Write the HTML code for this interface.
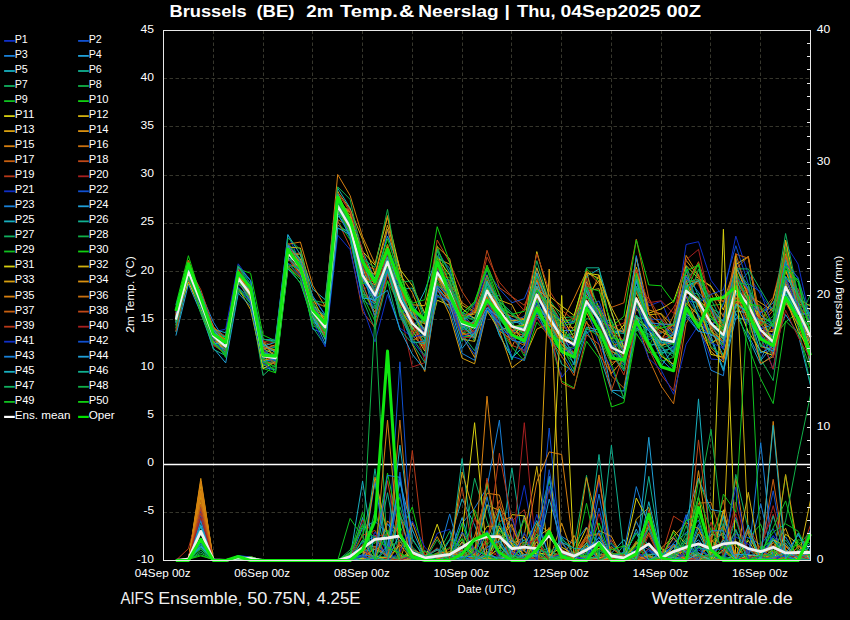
<!DOCTYPE html><html><head><meta charset="utf-8"><style>html,body{margin:0;padding:0;background:#000;}svg{display:block}text{font-family:"Liberation Sans",sans-serif;fill:#fff}</style></head><body>
<svg width="850" height="620" viewBox="0 0 850 620">
<rect width="850" height="620" fill="#000"/>
<path d="M213.5 30.5 V560.5 M263.5 30.5 V560.5 M312.5 30.5 V560.5 M362.5 30.5 V560.5 M412.5 30.5 V560.5 M462.5 30.5 V560.5 M511.5 30.5 V560.5 M561.5 30.5 V560.5 M611.5 30.5 V560.5 M661.5 30.5 V560.5 M710.5 30.5 V560.5 M760.5 30.5 V560.5 M163.5 78.5 H810.5 M163.5 126.5 H810.5 M163.5 175.5 H810.5 M163.5 223.5 H810.5 M163.5 271.5 H810.5 M163.5 319.5 H810.5 M163.5 367.5 H810.5 M163.5 415.5 H810.5 M163.5 512.5 H810.5" stroke="#36362c" stroke-width="1" stroke-dasharray="3.5,2.5" fill="none"/>
<path d="M163.5 464.5 H810.5" stroke="#fff" stroke-width="1.3"/>
<g fill="none" stroke-width="1" stroke-linejoin="round"><path d="M175.9 321.7 L188.4 279.7 L200.8 305.8 L213.3 340.8 L225.7 349.9 L238.2 276.3 L250.6 293.9 L263.0 347.0 L275.5 362.5 L287.9 258.2 L300.4 273.0 L312.8 315.3 L325.2 323.1 L337.7 212.4 L350.1 229.3 L362.6 281.6 L375.0 297.7 L387.5 229.4 L399.9 290.6 L412.3 333.9 L424.8 337.0 L437.2 268.7 L449.7 293.3 L462.1 322.2 L474.6 335.2 L487.0 294.6 L499.4 317.0 L511.9 330.6 L524.3 335.5 L536.8 299.9 L549.2 313.2 L561.7 342.3 L574.1 345.8 L586.5 300.9 L599.0 331.3 L611.4 351.5 L623.9 339.9 L636.3 271.7 L648.8 305.9 L661.2 301.1 L673.6 330.5 L686.1 244.5 L698.5 241.7 L711.0 280.3 L723.4 296.9 L735.8 236.1 L748.3 274.2 L760.7 294.5 L773.2 311.9 L785.6 244.4 L798.1 264.1 L810.5 320.8" stroke="#1030c8"/><path d="M175.9 321.8 L188.4 272.5 L200.8 299.2 L213.3 342.6 L225.7 335.6 L238.2 274.5 L250.6 289.5 L263.0 339.8 L275.5 339.2 L287.9 234.7 L300.4 262.8 L312.8 296.6 L325.2 314.7 L337.7 208.0 L350.1 231.4 L362.6 276.2 L375.0 287.4 L387.5 256.5 L399.9 287.7 L412.3 323.3 L424.8 332.7 L437.2 269.2 L449.7 298.4 L462.1 321.6 L474.6 310.5 L487.0 297.0 L499.4 295.2 L511.9 322.2 L524.3 316.4 L536.8 289.0 L549.2 331.4 L561.7 350.8 L574.1 356.9 L586.5 295.7 L599.0 318.5 L611.4 345.5 L623.9 357.6 L636.3 306.0 L648.8 340.0 L661.2 333.4 L673.6 323.5 L686.1 281.8 L698.5 300.5 L711.0 324.5 L723.4 319.4 L735.8 259.0 L748.3 290.6 L760.7 335.5 L773.2 369.4 L785.6 295.8 L798.1 312.2 L810.5 342.4" stroke="#1050d0"/><path d="M175.9 321.4 L188.4 268.3 L200.8 293.1 L213.3 322.0 L225.7 341.4 L238.2 280.4 L250.6 293.6 L263.0 350.4 L275.5 365.6 L287.9 266.5 L300.4 279.4 L312.8 319.0 L325.2 333.1 L337.7 214.2 L350.1 217.6 L362.6 269.9 L375.0 289.8 L387.5 262.2 L399.9 311.3 L412.3 312.7 L424.8 330.4 L437.2 261.8 L449.7 290.9 L462.1 326.7 L474.6 337.7 L487.0 295.6 L499.4 335.4 L511.9 357.8 L524.3 345.8 L536.8 312.3 L549.2 337.3 L561.7 352.3 L574.1 373.0 L586.5 332.6 L599.0 328.7 L611.4 349.8 L623.9 364.8 L636.3 315.9 L648.8 348.1 L661.2 338.0 L673.6 352.9 L686.1 311.7 L698.5 324.0 L711.0 370.2 L723.4 375.7 L735.8 279.8 L748.3 335.3 L760.7 359.5 L773.2 333.0 L785.6 281.6 L798.1 323.3 L810.5 343.8" stroke="#1880d8"/><path d="M175.9 320.0 L188.4 271.9 L200.8 300.1 L213.3 335.2 L225.7 353.4 L238.2 284.1 L250.6 293.8 L263.0 353.2 L275.5 349.5 L287.9 245.2 L300.4 272.6 L312.8 314.8 L325.2 323.7 L337.7 207.8 L350.1 209.5 L362.6 257.9 L375.0 285.8 L387.5 262.7 L399.9 301.0 L412.3 315.7 L424.8 331.3 L437.2 287.6 L449.7 301.4 L462.1 339.6 L474.6 328.9 L487.0 281.1 L499.4 301.5 L511.9 327.6 L524.3 325.8 L536.8 274.3 L549.2 310.7 L561.7 330.7 L574.1 330.3 L586.5 301.8 L599.0 312.1 L611.4 331.2 L623.9 331.8 L636.3 274.6 L648.8 323.3 L661.2 338.1 L673.6 352.5 L686.1 281.9 L698.5 318.5 L711.0 335.3 L723.4 337.4 L735.8 302.0 L748.3 300.2 L760.7 313.0 L773.2 302.8 L785.6 279.0 L798.1 289.3 L810.5 324.8" stroke="#20a0d8"/><path d="M175.9 319.5 L188.4 276.0 L200.8 299.3 L213.3 337.4 L225.7 351.0 L238.2 288.0 L250.6 303.8 L263.0 360.5 L275.5 360.0 L287.9 258.4 L300.4 272.1 L312.8 314.7 L325.2 320.6 L337.7 215.9 L350.1 228.9 L362.6 295.6 L375.0 303.8 L387.5 264.9 L399.9 297.8 L412.3 326.4 L424.8 346.3 L437.2 276.3 L449.7 298.4 L462.1 328.5 L474.6 322.4 L487.0 303.2 L499.4 334.8 L511.9 358.0 L524.3 345.5 L536.8 317.0 L549.2 322.2 L561.7 352.9 L574.1 355.9 L586.5 331.2 L599.0 353.4 L611.4 391.0 L623.9 398.6 L636.3 315.2 L648.8 349.3 L661.2 366.0 L673.6 348.6 L686.1 304.6 L698.5 325.3 L711.0 329.5 L723.4 355.7 L735.8 313.4 L748.3 337.9 L760.7 364.7 L773.2 354.6 L785.6 301.7 L798.1 318.4 L810.5 331.4" stroke="#18b0c0"/><path d="M175.9 318.3 L188.4 266.0 L200.8 297.8 L213.3 338.3 L225.7 335.9 L238.2 265.8 L250.6 280.6 L263.0 348.4 L275.5 347.7 L287.9 249.4 L300.4 263.5 L312.8 318.4 L325.2 324.0 L337.7 208.1 L350.1 228.3 L362.6 261.9 L375.0 295.7 L387.5 271.4 L399.9 289.5 L412.3 288.0 L424.8 315.9 L437.2 250.1 L449.7 296.0 L462.1 333.9 L474.6 319.8 L487.0 286.7 L499.4 316.2 L511.9 324.6 L524.3 334.8 L536.8 303.7 L549.2 332.0 L561.7 364.3 L574.1 371.4 L586.5 295.5 L599.0 321.4 L611.4 320.4 L623.9 347.0 L636.3 278.7 L648.8 328.1 L661.2 352.4 L673.6 353.3 L686.1 266.5 L698.5 296.4 L711.0 308.4 L723.4 314.7 L735.8 284.6 L748.3 304.5 L760.7 308.3 L773.2 347.5 L785.6 288.6 L798.1 308.7 L810.5 361.8" stroke="#10b090"/><path d="M175.9 315.4 L188.4 272.5 L200.8 307.2 L213.3 336.9 L225.7 357.1 L238.2 291.8 L250.6 301.5 L263.0 375.5 L275.5 364.2 L287.9 256.9 L300.4 275.0 L312.8 319.1 L325.2 335.9 L337.7 213.1 L350.1 224.6 L362.6 275.1 L375.0 306.9 L387.5 272.4 L399.9 296.0 L412.3 317.1 L424.8 322.0 L437.2 277.7 L449.7 300.5 L462.1 341.5 L474.6 322.9 L487.0 301.3 L499.4 317.8 L511.9 329.7 L524.3 321.3 L536.8 272.8 L549.2 310.8 L561.7 338.5 L574.1 333.3 L586.5 287.8 L599.0 325.3 L611.4 337.3 L623.9 355.6 L636.3 315.0 L648.8 329.3 L661.2 346.7 L673.6 357.0 L686.1 296.3 L698.5 305.1 L711.0 327.1 L723.4 338.9 L735.8 287.7 L748.3 271.9 L760.7 334.5 L773.2 337.6 L785.6 288.7 L798.1 318.1 L810.5 353.6" stroke="#10b060"/><path d="M175.9 328.2 L188.4 271.5 L200.8 306.6 L213.3 341.7 L225.7 349.8 L238.2 290.9 L250.6 298.0 L263.0 356.2 L275.5 354.6 L287.9 253.7 L300.4 260.3 L312.8 311.1 L325.2 317.5 L337.7 212.4 L350.1 226.3 L362.6 268.4 L375.0 280.9 L387.5 266.1 L399.9 293.6 L412.3 304.2 L424.8 323.2 L437.2 274.2 L449.7 273.8 L462.1 318.4 L474.6 341.3 L487.0 301.7 L499.4 302.5 L511.9 325.8 L524.3 334.6 L536.8 276.3 L549.2 328.8 L561.7 335.8 L574.1 344.0 L586.5 318.5 L599.0 321.6 L611.4 350.3 L623.9 360.0 L636.3 330.6 L648.8 329.5 L661.2 332.8 L673.6 328.9 L686.1 280.2 L698.5 264.5 L711.0 306.8 L723.4 327.2 L735.8 268.8 L748.3 285.0 L760.7 318.3 L773.2 321.5 L785.6 264.9 L798.1 307.9 L810.5 304.0" stroke="#10b048"/><path d="M175.9 316.8 L188.4 273.5 L200.8 302.3 L213.3 327.0 L225.7 346.7 L238.2 267.0 L250.6 288.0 L263.0 353.6 L275.5 362.1 L287.9 243.0 L300.4 267.5 L312.8 318.3 L325.2 337.2 L337.7 207.7 L350.1 228.5 L362.6 263.5 L375.0 280.4 L387.5 244.6 L399.9 298.6 L412.3 327.8 L424.8 341.4 L437.2 281.1 L449.7 299.7 L462.1 323.5 L474.6 335.0 L487.0 295.5 L499.4 315.5 L511.9 321.6 L524.3 344.6 L536.8 297.7 L549.2 337.9 L561.7 350.5 L574.1 362.9 L586.5 285.2 L599.0 326.2 L611.4 352.5 L623.9 368.7 L636.3 286.9 L648.8 329.0 L661.2 327.9 L673.6 340.4 L686.1 268.8 L698.5 306.6 L711.0 305.5 L723.4 304.1 L735.8 272.1 L748.3 302.1 L760.7 315.0 L773.2 323.8 L785.6 285.4 L798.1 316.3 L810.5 317.8" stroke="#10c020"/><path d="M175.9 304.7 L188.4 255.7 L200.8 296.2 L213.3 332.5 L225.7 338.6 L238.2 268.9 L250.6 273.3 L263.0 335.1 L275.5 340.9 L287.9 243.1 L300.4 258.9 L312.8 300.5 L325.2 307.1 L337.7 192.3 L350.1 223.4 L362.6 263.8 L375.0 291.7 L387.5 244.9 L399.9 284.2 L412.3 320.3 L424.8 338.2 L437.2 283.3 L449.7 298.7 L462.1 334.1 L474.6 327.2 L487.0 294.1 L499.4 327.5 L511.9 347.2 L524.3 360.9 L536.8 322.2 L549.2 335.7 L561.7 381.2 L574.1 388.0 L586.5 341.2 L599.0 358.2 L611.4 407.0 L623.9 402.5 L636.3 333.4 L648.8 352.6 L661.2 353.0 L673.6 368.9 L686.1 295.3 L698.5 315.5 L711.0 331.8 L723.4 345.7 L735.8 290.6 L748.3 320.3 L760.7 340.2 L773.2 338.7 L785.6 322.0 L798.1 312.4 L810.5 328.7" stroke="#10d010"/><path d="M175.9 319.4 L188.4 269.4 L200.8 295.2 L213.3 339.0 L225.7 346.1 L238.2 270.9 L250.6 293.8 L263.0 340.6 L275.5 359.7 L287.9 254.1 L300.4 254.1 L312.8 301.9 L325.2 326.9 L337.7 191.1 L350.1 233.1 L362.6 270.9 L375.0 277.6 L387.5 247.2 L399.9 284.2 L412.3 330.3 L424.8 351.1 L437.2 300.2 L449.7 305.3 L462.1 333.2 L474.6 337.4 L487.0 300.6 L499.4 330.3 L511.9 325.9 L524.3 341.3 L536.8 288.0 L549.2 326.5 L561.7 317.1 L574.1 337.3 L586.5 281.7 L599.0 307.3 L611.4 339.2 L623.9 325.0 L636.3 267.3 L648.8 313.2 L661.2 308.9 L673.6 301.2 L686.1 265.5 L698.5 278.5 L711.0 286.1 L723.4 310.0 L735.8 264.5 L748.3 256.6 L760.7 330.4 L773.2 331.7 L785.6 278.5 L798.1 311.2 L810.5 350.3" stroke="#d8d010"/><path d="M175.9 324.9 L188.4 279.9 L200.8 302.9 L213.3 334.8 L225.7 350.1 L238.2 287.8 L250.6 309.7 L263.0 365.9 L275.5 363.0 L287.9 259.5 L300.4 268.7 L312.8 306.2 L325.2 333.7 L337.7 211.0 L350.1 223.2 L362.6 266.6 L375.0 302.4 L387.5 252.9 L399.9 282.7 L412.3 304.8 L424.8 305.7 L437.2 258.4 L449.7 264.2 L462.1 305.2 L474.6 312.5 L487.0 288.1 L499.4 306.7 L511.9 330.4 L524.3 329.8 L536.8 294.3 L549.2 317.0 L561.7 341.9 L574.1 317.9 L586.5 290.9 L599.0 288.7 L611.4 339.8 L623.9 360.3 L636.3 306.8 L648.8 325.2 L661.2 328.4 L673.6 338.7 L686.1 281.0 L698.5 304.0 L711.0 316.8 L723.4 328.1 L735.8 293.5 L748.3 308.3 L760.7 324.4 L773.2 336.9 L785.6 270.3 L798.1 304.4 L810.5 322.9" stroke="#d0b010"/><path d="M175.9 319.8 L188.4 271.1 L200.8 303.8 L213.3 335.8 L225.7 350.5 L238.2 272.2 L250.6 292.8 L263.0 348.5 L275.5 355.1 L287.9 256.8 L300.4 273.3 L312.8 304.3 L325.2 325.7 L337.7 194.7 L350.1 218.8 L362.6 254.7 L375.0 281.2 L387.5 250.9 L399.9 286.0 L412.3 309.5 L424.8 329.9 L437.2 275.9 L449.7 294.0 L462.1 318.8 L474.6 312.4 L487.0 284.2 L499.4 300.0 L511.9 304.7 L524.3 328.7 L536.8 280.4 L549.2 320.9 L561.7 348.0 L574.1 352.3 L586.5 312.6 L599.0 337.9 L611.4 373.5 L623.9 358.9 L636.3 309.0 L648.8 322.0 L661.2 339.0 L673.6 323.0 L686.1 260.3 L698.5 276.2 L711.0 287.2 L723.4 302.2 L735.8 264.8 L748.3 295.4 L760.7 302.8 L773.2 311.1 L785.6 270.7 L798.1 303.1 L810.5 309.7" stroke="#d8a010"/><path d="M175.9 318.1 L188.4 265.2 L200.8 295.9 L213.3 343.9 L225.7 348.9 L238.2 279.0 L250.6 300.1 L263.0 360.3 L275.5 357.8 L287.9 257.8 L300.4 269.3 L312.8 305.6 L325.2 322.9 L337.7 202.8 L350.1 219.2 L362.6 276.9 L375.0 282.8 L387.5 251.1 L399.9 304.9 L412.3 344.2 L424.8 371.5 L437.2 290.0 L449.7 299.6 L462.1 335.4 L474.6 357.5 L487.0 298.2 L499.4 304.4 L511.9 335.1 L524.3 338.4 L536.8 311.1 L549.2 320.8 L561.7 343.8 L574.1 357.7 L586.5 307.4 L599.0 306.0 L611.4 332.0 L623.9 352.0 L636.3 257.3 L648.8 309.8 L661.2 314.1 L673.6 334.1 L686.1 283.3 L698.5 299.9 L711.0 311.6 L723.4 339.5 L735.8 293.4 L748.3 320.3 L760.7 340.1 L773.2 323.9 L785.6 286.9 L798.1 304.5 L810.5 366.5" stroke="#d89010"/><path d="M175.9 318.4 L188.4 274.0 L200.8 298.0 L213.3 338.5 L225.7 350.5 L238.2 282.2 L250.6 289.8 L263.0 353.9 L275.5 359.1 L287.9 253.8 L300.4 260.8 L312.8 317.7 L325.2 332.3 L337.7 206.7 L350.1 233.5 L362.6 290.0 L375.0 312.2 L387.5 268.2 L399.9 314.4 L412.3 335.6 L424.8 347.5 L437.2 284.6 L449.7 298.9 L462.1 327.1 L474.6 321.8 L487.0 280.9 L499.4 308.3 L511.9 346.7 L524.3 322.1 L536.8 280.1 L549.2 301.2 L561.7 322.6 L574.1 340.6 L586.5 304.9 L599.0 274.9 L611.4 365.7 L623.9 352.4 L636.3 297.4 L648.8 323.6 L661.2 347.2 L673.6 333.1 L686.1 255.4 L698.5 275.1 L711.0 323.3 L723.4 320.6 L735.8 306.0 L748.3 288.8 L760.7 337.2 L773.2 342.8 L785.6 299.2 L798.1 325.4 L810.5 360.4" stroke="#d88010"/><path d="M175.9 321.7 L188.4 280.8 L200.8 307.3 L213.3 343.7 L225.7 354.1 L238.2 278.8 L250.6 298.7 L263.0 363.1 L275.5 363.4 L287.9 252.6 L300.4 267.6 L312.8 309.2 L325.2 326.5 L337.7 219.7 L350.1 226.5 L362.6 281.4 L375.0 278.3 L387.5 268.5 L399.9 303.3 L412.3 340.2 L424.8 335.6 L437.2 277.2 L449.7 285.1 L462.1 319.5 L474.6 332.5 L487.0 296.7 L499.4 331.0 L511.9 339.5 L524.3 345.3 L536.8 286.1 L549.2 328.0 L561.7 352.6 L574.1 352.8 L586.5 322.5 L599.0 335.7 L611.4 375.9 L623.9 388.2 L636.3 317.9 L648.8 358.8 L661.2 386.0 L673.6 403.8 L686.1 323.5 L698.5 302.9 L711.0 348.0 L723.4 359.7 L735.8 289.4 L748.3 306.8 L760.7 319.1 L773.2 331.5 L785.6 240.4 L798.1 305.6 L810.5 334.7" stroke="#c87010"/><path d="M175.9 313.6 L188.4 266.9 L200.8 301.8 L213.3 326.4 L225.7 352.5 L238.2 279.2 L250.6 298.7 L263.0 354.9 L275.5 354.2 L287.9 257.6 L300.4 276.5 L312.8 316.4 L325.2 320.7 L337.7 201.9 L350.1 211.8 L362.6 269.4 L375.0 283.2 L387.5 251.8 L399.9 288.2 L412.3 323.3 L424.8 333.0 L437.2 270.8 L449.7 293.5 L462.1 317.0 L474.6 334.2 L487.0 279.3 L499.4 311.9 L511.9 336.1 L524.3 323.8 L536.8 296.3 L549.2 310.7 L561.7 337.5 L574.1 336.9 L586.5 270.3 L599.0 283.8 L611.4 307.4 L623.9 302.8 L636.3 239.1 L648.8 298.2 L661.2 328.6 L673.6 335.3 L686.1 295.2 L698.5 278.2 L711.0 293.6 L723.4 317.2 L735.8 253.4 L748.3 296.6 L760.7 305.8 L773.2 356.1 L785.6 279.6 L798.1 300.5 L810.5 339.0" stroke="#c86010"/><path d="M175.9 317.6 L188.4 266.3 L200.8 289.7 L213.3 326.7 L225.7 341.3 L238.2 280.2 L250.6 284.7 L263.0 341.6 L275.5 347.0 L287.9 256.2 L300.4 252.5 L312.8 302.5 L325.2 306.3 L337.7 192.7 L350.1 211.9 L362.6 265.0 L375.0 269.2 L387.5 264.4 L399.9 283.5 L412.3 334.7 L424.8 319.8 L437.2 240.0 L449.7 262.7 L462.1 291.6 L474.6 310.2 L487.0 250.3 L499.4 287.6 L511.9 296.6 L524.3 305.3 L536.8 277.7 L549.2 311.1 L561.7 327.9 L574.1 327.5 L586.5 304.1 L599.0 320.3 L611.4 346.5 L623.9 340.6 L636.3 287.4 L648.8 322.0 L661.2 324.5 L673.6 307.4 L686.1 285.5 L698.5 261.7 L711.0 299.4 L723.4 301.0 L735.8 302.3 L748.3 290.4 L760.7 312.2 L773.2 297.3 L785.6 247.2 L798.1 321.3 L810.5 323.5" stroke="#c04818"/><path d="M175.9 331.8 L188.4 278.2 L200.8 312.3 L213.3 344.6 L225.7 354.4 L238.2 274.6 L250.6 290.5 L263.0 357.6 L275.5 357.2 L287.9 253.0 L300.4 265.4 L312.8 307.1 L325.2 324.3 L337.7 206.3 L350.1 236.5 L362.6 293.7 L375.0 302.2 L387.5 265.9 L399.9 306.5 L412.3 331.1 L424.8 328.6 L437.2 267.7 L449.7 280.6 L462.1 319.7 L474.6 334.7 L487.0 265.0 L499.4 295.2 L511.9 323.7 L524.3 308.8 L536.8 272.8 L549.2 301.1 L561.7 341.4 L574.1 341.3 L586.5 283.5 L599.0 323.3 L611.4 351.7 L623.9 374.9 L636.3 325.1 L648.8 348.6 L661.2 375.0 L673.6 390.6 L686.1 313.4 L698.5 320.4 L711.0 333.5 L723.4 347.5 L735.8 300.5 L748.3 322.2 L760.7 335.4 L773.2 335.8 L785.6 290.3 L798.1 292.3 L810.5 317.4" stroke="#b83818"/><path d="M175.9 320.9 L188.4 281.1 L200.8 310.7 L213.3 345.9 L225.7 350.5 L238.2 278.2 L250.6 293.9 L263.0 353.5 L275.5 365.1 L287.9 257.5 L300.4 274.7 L312.8 323.4 L325.2 331.4 L337.7 212.4 L350.1 223.8 L362.6 288.7 L375.0 286.1 L387.5 259.2 L399.9 309.3 L412.3 367.0 L424.8 362.7 L437.2 295.1 L449.7 307.8 L462.1 331.0 L474.6 331.0 L487.0 304.8 L499.4 319.8 L511.9 329.5 L524.3 331.7 L536.8 296.6 L549.2 306.3 L561.7 338.9 L574.1 352.1 L586.5 292.2 L599.0 313.1 L611.4 328.2 L623.9 322.9 L636.3 290.1 L648.8 312.6 L661.2 337.8 L673.6 335.3 L686.1 271.4 L698.5 285.0 L711.0 310.4 L723.4 332.3 L735.8 282.9 L748.3 306.5 L760.7 338.0 L773.2 369.2 L785.6 299.3 L798.1 288.4 L810.5 320.7" stroke="#a82020"/><path d="M175.9 318.7 L188.4 262.4 L200.8 300.0 L213.3 332.0 L225.7 329.1 L238.2 263.8 L250.6 280.9 L263.0 347.6 L275.5 346.6 L287.9 245.1 L300.4 263.3 L312.8 303.6 L325.2 317.0 L337.7 198.2 L350.1 233.1 L362.6 286.5 L375.0 309.0 L387.5 272.4 L399.9 306.8 L412.3 340.8 L424.8 357.2 L437.2 271.5 L449.7 295.1 L462.1 330.2 L474.6 304.7 L487.0 275.1 L499.4 307.7 L511.9 337.0 L524.3 353.3 L536.8 317.2 L549.2 335.7 L561.7 377.3 L574.1 362.4 L586.5 305.7 L599.0 344.6 L611.4 368.2 L623.9 397.8 L636.3 324.9 L648.8 358.5 L661.2 370.2 L673.6 394.3 L686.1 344.2 L698.5 325.1 L711.0 359.1 L723.4 359.8 L735.8 306.6 L748.3 324.3 L760.7 327.0 L773.2 335.9 L785.6 261.6 L798.1 305.2 L810.5 316.8" stroke="#1030c8"/><path d="M175.9 308.5 L188.4 264.5 L200.8 296.1 L213.3 337.4 L225.7 346.5 L238.2 267.0 L250.6 284.4 L263.0 353.9 L275.5 361.3 L287.9 253.1 L300.4 262.3 L312.8 313.7 L325.2 320.6 L337.7 206.2 L350.1 239.2 L362.6 299.8 L375.0 308.6 L387.5 272.6 L399.9 308.6 L412.3 310.6 L424.8 321.7 L437.2 249.0 L449.7 272.6 L462.1 312.9 L474.6 303.4 L487.0 270.5 L499.4 288.9 L511.9 302.7 L524.3 298.7 L536.8 268.6 L549.2 303.6 L561.7 322.9 L574.1 322.1 L586.5 299.3 L599.0 323.9 L611.4 341.6 L623.9 343.7 L636.3 281.8 L648.8 318.8 L661.2 319.9 L673.6 340.7 L686.1 300.9 L698.5 302.1 L711.0 328.7 L723.4 303.9 L735.8 273.6 L748.3 302.8 L760.7 313.0 L773.2 306.7 L785.6 259.7 L798.1 278.6 L810.5 335.7" stroke="#1050d0"/><path d="M175.9 319.9 L188.4 271.4 L200.8 305.1 L213.3 343.5 L225.7 349.9 L238.2 273.7 L250.6 299.8 L263.0 358.8 L275.5 354.3 L287.9 246.4 L300.4 269.3 L312.8 329.3 L325.2 333.4 L337.7 207.9 L350.1 233.7 L362.6 278.9 L375.0 296.6 L387.5 267.8 L399.9 307.7 L412.3 324.1 L424.8 320.4 L437.2 268.4 L449.7 283.5 L462.1 313.3 L474.6 327.9 L487.0 274.6 L499.4 307.9 L511.9 318.6 L524.3 324.3 L536.8 305.1 L549.2 318.3 L561.7 348.4 L574.1 354.7 L586.5 305.2 L599.0 309.4 L611.4 333.2 L623.9 329.7 L636.3 274.8 L648.8 330.3 L661.2 359.4 L673.6 371.3 L686.1 316.5 L698.5 331.7 L711.0 321.9 L723.4 349.6 L735.8 293.5 L748.3 297.2 L760.7 328.8 L773.2 324.6 L785.6 258.1 L798.1 299.5 L810.5 313.5" stroke="#1880d8"/><path d="M175.9 335.6 L188.4 284.1 L200.8 312.7 L213.3 348.0 L225.7 362.9 L238.2 293.3 L250.6 306.1 L263.0 367.2 L275.5 369.9 L287.9 268.7 L300.4 282.7 L312.8 321.6 L325.2 330.0 L337.7 225.1 L350.1 233.3 L362.6 293.7 L375.0 301.3 L387.5 252.5 L399.9 289.1 L412.3 329.0 L424.8 317.9 L437.2 272.7 L449.7 294.7 L462.1 312.5 L474.6 318.5 L487.0 283.5 L499.4 306.5 L511.9 320.3 L524.3 325.4 L536.8 282.2 L549.2 313.7 L561.7 339.7 L574.1 358.4 L586.5 327.1 L599.0 330.1 L611.4 390.3 L623.9 391.0 L636.3 328.2 L648.8 334.2 L661.2 345.8 L673.6 367.4 L686.1 313.8 L698.5 322.6 L711.0 339.3 L723.4 371.1 L735.8 317.9 L748.3 319.7 L760.7 360.6 L773.2 345.0 L785.6 314.6 L798.1 333.8 L810.5 385.5" stroke="#20a0d8"/><path d="M175.9 310.4 L188.4 264.4 L200.8 293.0 L213.3 329.1 L225.7 332.8 L238.2 277.9 L250.6 293.9 L263.0 339.1 L275.5 341.2 L287.9 234.7 L300.4 254.7 L312.8 289.2 L325.2 299.7 L337.7 188.1 L350.1 208.0 L362.6 250.8 L375.0 279.5 L387.5 236.2 L399.9 268.3 L412.3 315.9 L424.8 290.9 L437.2 255.8 L449.7 268.2 L462.1 313.9 L474.6 338.4 L487.0 309.9 L499.4 316.4 L511.9 338.5 L524.3 336.2 L536.8 272.9 L549.2 309.1 L561.7 339.7 L574.1 365.0 L586.5 276.3 L599.0 269.1 L611.4 311.6 L623.9 350.6 L636.3 280.6 L648.8 323.9 L661.2 351.3 L673.6 347.5 L686.1 286.1 L698.5 301.2 L711.0 336.3 L723.4 369.3 L735.8 311.0 L748.3 312.8 L760.7 319.8 L773.2 356.0 L785.6 279.7 L798.1 308.1 L810.5 364.3" stroke="#18b0c0"/><path d="M175.9 331.8 L188.4 278.2 L200.8 308.1 L213.3 349.3 L225.7 355.6 L238.2 280.7 L250.6 300.1 L263.0 362.2 L275.5 361.9 L287.9 257.5 L300.4 263.6 L312.8 308.0 L325.2 329.7 L337.7 196.8 L350.1 225.4 L362.6 278.0 L375.0 273.2 L387.5 260.2 L399.9 292.9 L412.3 320.1 L424.8 343.1 L437.2 296.5 L449.7 299.9 L462.1 321.8 L474.6 310.0 L487.0 283.8 L499.4 317.1 L511.9 332.4 L524.3 322.4 L536.8 298.0 L549.2 315.3 L561.7 319.6 L574.1 321.5 L586.5 267.8 L599.0 267.8 L611.4 331.5 L623.9 333.6 L636.3 274.0 L648.8 343.9 L661.2 345.7 L673.6 332.9 L686.1 270.3 L698.5 310.6 L711.0 318.7 L723.4 330.6 L735.8 293.0 L748.3 307.2 L760.7 337.3 L773.2 342.8 L785.6 292.9 L798.1 321.5 L810.5 349.8" stroke="#10b090"/><path d="M175.9 319.5 L188.4 273.0 L200.8 308.1 L213.3 341.4 L225.7 352.3 L238.2 278.8 L250.6 303.4 L263.0 364.7 L275.5 362.9 L287.9 263.5 L300.4 269.2 L312.8 327.4 L325.2 345.6 L337.7 228.5 L350.1 230.9 L362.6 299.1 L375.0 329.1 L387.5 280.7 L399.9 330.1 L412.3 343.2 L424.8 362.6 L437.2 294.7 L449.7 302.8 L462.1 334.2 L474.6 350.8 L487.0 312.3 L499.4 324.4 L511.9 335.6 L524.3 325.8 L536.8 301.7 L549.2 323.1 L561.7 348.9 L574.1 346.8 L586.5 308.6 L599.0 317.4 L611.4 359.2 L623.9 339.5 L636.3 286.2 L648.8 313.6 L661.2 346.8 L673.6 337.4 L686.1 292.1 L698.5 294.0 L711.0 343.7 L723.4 332.5 L735.8 269.8 L748.3 308.6 L760.7 334.7 L773.2 357.7 L785.6 293.0 L798.1 326.4 L810.5 384.0" stroke="#10b060"/><path d="M175.9 316.9 L188.4 269.2 L200.8 296.2 L213.3 327.8 L225.7 342.6 L238.2 266.7 L250.6 288.7 L263.0 353.7 L275.5 346.1 L287.9 244.7 L300.4 261.6 L312.8 302.9 L325.2 318.2 L337.7 213.5 L350.1 222.0 L362.6 288.8 L375.0 314.9 L387.5 260.9 L399.9 287.9 L412.3 311.6 L424.8 339.4 L437.2 295.7 L449.7 308.2 L462.1 316.8 L474.6 319.2 L487.0 282.7 L499.4 305.7 L511.9 314.4 L524.3 322.4 L536.8 276.4 L549.2 298.9 L561.7 317.8 L574.1 316.7 L586.5 272.5 L599.0 311.5 L611.4 326.2 L623.9 350.8 L636.3 297.9 L648.8 330.3 L661.2 342.3 L673.6 343.3 L686.1 287.7 L698.5 301.9 L711.0 324.8 L723.4 345.0 L735.8 302.9 L748.3 311.4 L760.7 359.1 L773.2 380.6 L785.6 289.3 L798.1 321.4 L810.5 294.5" stroke="#10b048"/><path d="M175.9 328.5 L188.4 268.6 L200.8 310.6 L213.3 337.1 L225.7 357.5 L238.2 288.1 L250.6 303.7 L263.0 364.6 L275.5 369.4 L287.9 264.4 L300.4 269.5 L312.8 302.7 L325.2 337.6 L337.7 210.2 L350.1 231.3 L362.6 293.8 L375.0 308.8 L387.5 266.4 L399.9 311.5 L412.3 307.8 L424.8 323.5 L437.2 279.7 L449.7 276.9 L462.1 336.7 L474.6 336.2 L487.0 291.4 L499.4 319.4 L511.9 334.0 L524.3 356.1 L536.8 306.6 L549.2 330.6 L561.7 346.0 L574.1 369.8 L586.5 327.7 L599.0 336.6 L611.4 364.2 L623.9 398.6 L636.3 328.3 L648.8 345.5 L661.2 361.2 L673.6 357.4 L686.1 304.9 L698.5 322.3 L711.0 346.8 L723.4 355.7 L735.8 304.2 L748.3 346.3 L760.7 378.8 L773.2 403.6 L785.6 321.0 L798.1 333.2 L810.5 368.9" stroke="#10c020"/><path d="M175.9 316.8 L188.4 267.2 L200.8 304.8 L213.3 330.3 L225.7 338.8 L238.2 280.9 L250.6 298.7 L263.0 368.4 L275.5 372.8 L287.9 263.5 L300.4 277.2 L312.8 325.8 L325.2 330.9 L337.7 221.4 L350.1 239.6 L362.6 295.5 L375.0 321.2 L387.5 280.8 L399.9 306.4 L412.3 330.2 L424.8 316.8 L437.2 245.7 L449.7 284.9 L462.1 314.1 L474.6 301.8 L487.0 269.1 L499.4 307.6 L511.9 314.2 L524.3 311.3 L536.8 290.3 L549.2 303.7 L561.7 323.9 L574.1 317.4 L586.5 268.8 L599.0 281.1 L611.4 326.7 L623.9 316.3 L636.3 239.9 L648.8 284.9 L661.2 285.8 L673.6 302.5 L686.1 271.1 L698.5 265.0 L711.0 324.6 L723.4 328.4 L735.8 271.7 L748.3 299.1 L760.7 331.1 L773.2 336.7 L785.6 269.8 L798.1 279.8 L810.5 335.9" stroke="#10d010"/><path d="M175.9 317.8 L188.4 281.9 L200.8 308.6 L213.3 341.0 L225.7 346.3 L238.2 270.5 L250.6 298.6 L263.0 368.7 L275.5 361.7 L287.9 246.7 L300.4 258.9 L312.8 310.5 L325.2 319.2 L337.7 194.5 L350.1 220.0 L362.6 251.4 L375.0 265.1 L387.5 217.0 L399.9 269.2 L412.3 285.5 L424.8 313.1 L437.2 258.2 L449.7 274.8 L462.1 308.6 L474.6 318.5 L487.0 292.3 L499.4 306.5 L511.9 336.4 L524.3 323.5 L536.8 251.6 L549.2 295.9 L561.7 306.0 L574.1 315.5 L586.5 273.2 L599.0 275.0 L611.4 311.8 L623.9 348.1 L636.3 317.7 L648.8 329.7 L661.2 356.1 L673.6 364.4 L686.1 302.7 L698.5 315.3 L711.0 354.4 L723.4 357.2 L735.8 301.1 L748.3 331.7 L760.7 350.9 L773.2 355.5 L785.6 298.0 L798.1 331.4 L810.5 350.6" stroke="#d8d010"/><path d="M175.9 311.1 L188.4 268.2 L200.8 300.3 L213.3 334.2 L225.7 346.9 L238.2 280.8 L250.6 292.6 L263.0 362.3 L275.5 349.9 L287.9 247.1 L300.4 248.0 L312.8 298.1 L325.2 322.5 L337.7 191.9 L350.1 209.0 L362.6 239.5 L375.0 273.9 L387.5 225.0 L399.9 268.0 L412.3 317.5 L424.8 324.0 L437.2 272.7 L449.7 298.8 L462.1 339.2 L474.6 341.4 L487.0 293.1 L499.4 314.2 L511.9 320.8 L524.3 319.4 L536.8 267.7 L549.2 302.9 L561.7 313.0 L574.1 331.0 L586.5 272.8 L599.0 278.3 L611.4 307.4 L623.9 331.3 L636.3 257.9 L648.8 314.7 L661.2 313.7 L673.6 326.4 L686.1 287.4 L698.5 303.2 L711.0 343.0 L723.4 336.9 L735.8 280.2 L748.3 300.8 L760.7 317.7 L773.2 342.8 L785.6 240.1 L798.1 298.9 L810.5 306.3" stroke="#d0b010"/><path d="M175.9 314.6 L188.4 271.0 L200.8 303.1 L213.3 332.6 L225.7 339.4 L238.2 275.9 L250.6 290.5 L263.0 346.3 L275.5 350.0 L287.9 251.9 L300.4 263.0 L312.8 307.3 L325.2 317.6 L337.7 197.7 L350.1 215.5 L362.6 278.6 L375.0 284.8 L387.5 251.5 L399.9 309.1 L412.3 326.8 L424.8 344.6 L437.2 288.3 L449.7 314.8 L462.1 358.2 L474.6 363.8 L487.0 310.6 L499.4 330.7 L511.9 367.8 L524.3 358.4 L536.8 329.1 L549.2 323.3 L561.7 331.5 L574.1 346.5 L586.5 295.9 L599.0 280.7 L611.4 327.7 L623.9 351.4 L636.3 292.4 L648.8 322.5 L661.2 331.6 L673.6 338.7 L686.1 295.2 L698.5 280.1 L711.0 330.8 L723.4 341.5 L735.8 266.2 L748.3 296.5 L760.7 322.1 L773.2 298.8 L785.6 253.7 L798.1 312.1 L810.5 344.5" stroke="#d8a010"/><path d="M175.9 321.6 L188.4 269.5 L200.8 299.0 L213.3 326.6 L225.7 342.8 L238.2 271.7 L250.6 295.9 L263.0 349.6 L275.5 344.8 L287.9 244.9 L300.4 263.6 L312.8 306.2 L325.2 330.3 L337.7 205.1 L350.1 212.2 L362.6 264.0 L375.0 275.2 L387.5 229.2 L399.9 274.3 L412.3 292.7 L424.8 324.1 L437.2 246.6 L449.7 258.7 L462.1 315.4 L474.6 314.2 L487.0 291.6 L499.4 312.5 L511.9 326.6 L524.3 325.4 L536.8 287.9 L549.2 300.0 L561.7 338.9 L574.1 337.6 L586.5 295.8 L599.0 310.6 L611.4 351.5 L623.9 356.8 L636.3 269.8 L648.8 325.5 L661.2 345.3 L673.6 342.2 L686.1 296.6 L698.5 327.2 L711.0 351.4 L723.4 362.2 L735.8 305.2 L748.3 299.6 L760.7 346.8 L773.2 348.9 L785.6 283.7 L798.1 313.6 L810.5 315.7" stroke="#d89010"/><path d="M175.9 315.8 L188.4 268.9 L200.8 301.2 L213.3 342.8 L225.7 340.5 L238.2 270.2 L250.6 289.6 L263.0 343.2 L275.5 351.8 L287.9 244.3 L300.4 242.0 L312.8 285.6 L325.2 306.5 L337.7 174.5 L350.1 195.5 L362.6 236.7 L375.0 263.6 L387.5 215.6 L399.9 286.0 L412.3 310.0 L424.8 337.6 L437.2 276.1 L449.7 295.9 L462.1 332.9 L474.6 337.7 L487.0 290.4 L499.4 311.2 L511.9 316.3 L524.3 318.9 L536.8 286.1 L549.2 310.4 L561.7 322.3 L574.1 298.2 L586.5 271.3 L599.0 322.6 L611.4 325.9 L623.9 332.6 L636.3 271.1 L648.8 313.7 L661.2 323.9 L673.6 325.1 L686.1 275.1 L698.5 306.0 L711.0 326.5 L723.4 359.6 L735.8 297.2 L748.3 317.2 L760.7 363.6 L773.2 356.6 L785.6 302.7 L798.1 324.2 L810.5 333.4" stroke="#d88010"/><path d="M175.9 312.9 L188.4 260.0 L200.8 299.3 L213.3 327.3 L225.7 336.8 L238.2 277.4 L250.6 289.0 L263.0 347.5 L275.5 351.4 L287.9 252.2 L300.4 267.1 L312.8 314.2 L325.2 338.3 L337.7 207.1 L350.1 228.9 L362.6 283.1 L375.0 316.4 L387.5 273.7 L399.9 280.7 L412.3 310.9 L424.8 319.8 L437.2 256.6 L449.7 283.3 L462.1 302.6 L474.6 311.7 L487.0 275.6 L499.4 308.9 L511.9 331.6 L524.3 335.6 L536.8 305.6 L549.2 320.4 L561.7 344.4 L574.1 356.8 L586.5 321.0 L599.0 353.7 L611.4 373.3 L623.9 359.6 L636.3 302.9 L648.8 318.8 L661.2 341.2 L673.6 315.6 L686.1 280.0 L698.5 283.2 L711.0 305.3 L723.4 325.8 L735.8 268.9 L748.3 256.3 L760.7 321.0 L773.2 307.8 L785.6 248.6 L798.1 310.0 L810.5 340.4" stroke="#c87010"/><path d="M175.9 313.1 L188.4 260.3 L200.8 297.6 L213.3 341.9 L225.7 342.1 L238.2 281.7 L250.6 301.1 L263.0 360.8 L275.5 364.2 L287.9 266.6 L300.4 264.3 L312.8 309.5 L325.2 339.7 L337.7 202.7 L350.1 221.2 L362.6 272.2 L375.0 282.1 L387.5 244.3 L399.9 284.4 L412.3 320.7 L424.8 347.5 L437.2 276.7 L449.7 305.0 L462.1 334.5 L474.6 332.7 L487.0 297.1 L499.4 309.1 L511.9 331.4 L524.3 343.5 L536.8 298.1 L549.2 337.1 L561.7 356.5 L574.1 375.7 L586.5 301.4 L599.0 330.2 L611.4 362.6 L623.9 358.5 L636.3 307.7 L648.8 318.0 L661.2 339.6 L673.6 338.3 L686.1 295.0 L698.5 273.9 L711.0 326.6 L723.4 326.1 L735.8 254.2 L748.3 258.2 L760.7 324.8 L773.2 310.4 L785.6 256.3 L798.1 294.3 L810.5 325.9" stroke="#c86010"/><path d="M175.9 315.0 L188.4 263.8 L200.8 296.2 L213.3 328.9 L225.7 340.8 L238.2 277.9 L250.6 296.7 L263.0 354.2 L275.5 363.3 L287.9 266.2 L300.4 277.4 L312.8 314.2 L325.2 335.2 L337.7 221.0 L350.1 246.8 L362.6 311.7 L375.0 327.7 L387.5 274.6 L399.9 311.7 L412.3 318.7 L424.8 350.2 L437.2 263.3 L449.7 288.1 L462.1 319.6 L474.6 324.1 L487.0 294.2 L499.4 324.6 L511.9 345.3 L524.3 350.4 L536.8 314.9 L549.2 325.2 L561.7 383.1 L574.1 389.0 L586.5 334.7 L599.0 344.4 L611.4 390.6 L623.9 353.9 L636.3 304.1 L648.8 317.0 L661.2 332.8 L673.6 324.9 L686.1 291.1 L698.5 297.9 L711.0 326.0 L723.4 343.7 L735.8 303.3 L748.3 286.1 L760.7 336.6 L773.2 329.2 L785.6 249.0 L798.1 296.3 L810.5 325.0" stroke="#c04818"/><path d="M175.9 331.0 L188.4 270.2 L200.8 294.5 L213.3 332.4 L225.7 350.3 L238.2 280.6 L250.6 301.0 L263.0 350.5 L275.5 357.4 L287.9 245.9 L300.4 272.2 L312.8 304.8 L325.2 329.3 L337.7 196.5 L350.1 226.4 L362.6 266.4 L375.0 292.2 L387.5 253.3 L399.9 298.9 L412.3 320.3 L424.8 349.5 L437.2 267.9 L449.7 286.2 L462.1 317.0 L474.6 311.0 L487.0 257.1 L499.4 282.2 L511.9 296.7 L524.3 310.7 L536.8 253.7 L549.2 290.3 L561.7 310.3 L574.1 320.0 L586.5 278.2 L599.0 321.3 L611.4 331.7 L623.9 340.4 L636.3 291.1 L648.8 298.2 L661.2 319.5 L673.6 330.2 L686.1 296.0 L698.5 301.8 L711.0 310.9 L723.4 333.9 L735.8 273.3 L748.3 307.8 L760.7 331.9 L773.2 351.2 L785.6 279.2 L798.1 305.8 L810.5 320.5" stroke="#b83818"/><path d="M175.9 316.5 L188.4 270.7 L200.8 295.9 L213.3 330.4 L225.7 336.1 L238.2 267.9 L250.6 290.6 L263.0 341.1 L275.5 342.9 L287.9 243.0 L300.4 269.8 L312.8 309.9 L325.2 324.4 L337.7 192.9 L350.1 210.4 L362.6 250.2 L375.0 295.8 L387.5 260.9 L399.9 303.3 L412.3 321.0 L424.8 361.0 L437.2 289.0 L449.7 304.2 L462.1 337.6 L474.6 337.2 L487.0 302.0 L499.4 325.3 L511.9 338.2 L524.3 353.4 L536.8 317.5 L549.2 338.3 L561.7 338.8 L574.1 343.9 L586.5 299.1 L599.0 320.4 L611.4 350.3 L623.9 348.5 L636.3 269.1 L648.8 302.7 L661.2 300.8 L673.6 313.4 L686.1 259.9 L698.5 249.4 L711.0 307.5 L723.4 334.5 L735.8 302.1 L748.3 307.5 L760.7 320.0 L773.2 357.7 L785.6 310.3 L798.1 337.0 L810.5 358.7" stroke="#a82020"/><path d="M175.9 313.1 L188.4 273.3 L200.8 306.3 L213.3 339.8 L225.7 354.3 L238.2 286.8 L250.6 302.1 L263.0 363.1 L275.5 371.8 L287.9 262.9 L300.4 275.8 L312.8 321.2 L325.2 346.9 L337.7 235.1 L350.1 249.6 L362.6 307.2 L375.0 341.9 L387.5 294.5 L399.9 328.0 L412.3 337.1 L424.8 334.4 L437.2 295.9 L449.7 300.8 L462.1 336.8 L474.6 332.0 L487.0 299.4 L499.4 330.1 L511.9 335.4 L524.3 350.8 L536.8 302.7 L549.2 310.3 L561.7 320.0 L574.1 342.6 L586.5 311.4 L599.0 305.4 L611.4 344.2 L623.9 359.8 L636.3 305.9 L648.8 330.2 L661.2 338.6 L673.6 348.7 L686.1 295.4 L698.5 314.0 L711.0 342.7 L723.4 348.3 L735.8 276.5 L748.3 288.9 L760.7 334.2 L773.2 351.7 L785.6 276.1 L798.1 309.4 L810.5 319.3" stroke="#1030c8"/><path d="M175.9 305.2 L188.4 267.3 L200.8 299.0 L213.3 331.8 L225.7 343.7 L238.2 273.3 L250.6 283.7 L263.0 348.6 L275.5 361.3 L287.9 258.3 L300.4 270.8 L312.8 305.9 L325.2 322.9 L337.7 200.9 L350.1 226.4 L362.6 276.6 L375.0 298.6 L387.5 269.1 L399.9 284.8 L412.3 304.8 L424.8 336.9 L437.2 285.8 L449.7 294.3 L462.1 337.1 L474.6 354.2 L487.0 308.0 L499.4 322.3 L511.9 356.3 L524.3 360.5 L536.8 310.4 L549.2 330.3 L561.7 351.6 L574.1 348.3 L586.5 308.7 L599.0 300.9 L611.4 334.8 L623.9 351.0 L636.3 302.9 L648.8 328.9 L661.2 324.0 L673.6 334.6 L686.1 276.2 L698.5 302.9 L711.0 294.3 L723.4 289.8 L735.8 245.7 L748.3 283.8 L760.7 291.8 L773.2 328.8 L785.6 263.8 L798.1 277.7 L810.5 321.2" stroke="#1050d0"/><path d="M175.9 322.7 L188.4 269.8 L200.8 294.9 L213.3 330.4 L225.7 343.5 L238.2 280.7 L250.6 301.6 L263.0 361.8 L275.5 358.8 L287.9 244.5 L300.4 260.3 L312.8 296.1 L325.2 315.4 L337.7 211.4 L350.1 223.2 L362.6 268.9 L375.0 318.3 L387.5 270.3 L399.9 313.6 L412.3 343.1 L424.8 340.8 L437.2 289.7 L449.7 309.8 L462.1 353.4 L474.6 360.3 L487.0 309.8 L499.4 323.4 L511.9 340.3 L524.3 342.8 L536.8 309.8 L549.2 318.3 L561.7 337.0 L574.1 339.6 L586.5 286.8 L599.0 314.3 L611.4 348.4 L623.9 340.1 L636.3 255.6 L648.8 322.8 L661.2 324.1 L673.6 324.4 L686.1 276.6 L698.5 292.2 L711.0 308.6 L723.4 321.6 L735.8 266.3 L748.3 289.2 L760.7 314.9 L773.2 326.0 L785.6 291.1 L798.1 302.7 L810.5 357.4" stroke="#1880d8"/><path d="M175.9 323.1 L188.4 270.8 L200.8 302.9 L213.3 329.2 L225.7 346.6 L238.2 267.0 L250.6 280.4 L263.0 344.1 L275.5 352.7 L287.9 245.6 L300.4 268.5 L312.8 316.5 L325.2 343.8 L337.7 227.8 L350.1 234.8 L362.6 298.2 L375.0 299.3 L387.5 290.3 L399.9 329.4 L412.3 354.2 L424.8 370.0 L437.2 286.3 L449.7 303.1 L462.1 348.4 L474.6 332.7 L487.0 307.5 L499.4 318.0 L511.9 326.0 L524.3 328.3 L536.8 300.7 L549.2 325.3 L561.7 333.8 L574.1 356.1 L586.5 290.3 L599.0 323.2 L611.4 345.2 L623.9 362.5 L636.3 321.1 L648.8 330.8 L661.2 342.9 L673.6 342.6 L686.1 313.8 L698.5 331.2 L711.0 334.1 L723.4 342.6 L735.8 304.7 L748.3 311.4 L760.7 353.1 L773.2 346.2 L785.6 294.0 L798.1 314.6 L810.5 313.0" stroke="#20a0d8"/><path d="M175.9 316.8 L188.4 271.2 L200.8 304.5 L213.3 344.0 L225.7 341.8 L238.2 281.2 L250.6 289.2 L263.0 346.1 L275.5 342.3 L287.9 251.3 L300.4 264.0 L312.8 313.8 L325.2 339.3 L337.7 213.3 L350.1 236.0 L362.6 279.1 L375.0 301.2 L387.5 257.4 L399.9 294.7 L412.3 315.7 L424.8 329.5 L437.2 262.5 L449.7 298.5 L462.1 324.5 L474.6 338.2 L487.0 281.1 L499.4 306.5 L511.9 323.2 L524.3 320.5 L536.8 286.4 L549.2 315.0 L561.7 334.9 L574.1 339.7 L586.5 304.9 L599.0 321.5 L611.4 345.6 L623.9 361.4 L636.3 317.8 L648.8 318.5 L661.2 341.6 L673.6 334.6 L686.1 286.4 L698.5 280.6 L711.0 307.7 L723.4 340.2 L735.8 304.2 L748.3 312.2 L760.7 345.1 L773.2 351.3 L785.6 276.5 L798.1 294.6 L810.5 318.4" stroke="#18b0c0"/><path d="M175.9 317.0 L188.4 265.9 L200.8 297.2 L213.3 329.4 L225.7 337.3 L238.2 273.0 L250.6 286.4 L263.0 353.1 L275.5 354.6 L287.9 256.8 L300.4 271.6 L312.8 306.4 L325.2 315.5 L337.7 193.6 L350.1 224.7 L362.6 260.6 L375.0 293.0 L387.5 270.7 L399.9 309.9 L412.3 341.7 L424.8 343.8 L437.2 263.7 L449.7 287.3 L462.1 328.2 L474.6 320.6 L487.0 294.1 L499.4 320.6 L511.9 360.0 L524.3 331.7 L536.8 311.7 L549.2 336.2 L561.7 341.1 L574.1 354.9 L586.5 329.4 L599.0 332.5 L611.4 353.5 L623.9 370.9 L636.3 286.4 L648.8 320.9 L661.2 354.7 L673.6 345.8 L686.1 285.2 L698.5 315.8 L711.0 324.8 L723.4 336.6 L735.8 275.6 L748.3 316.7 L760.7 320.3 L773.2 326.4 L785.6 260.7 L798.1 311.6 L810.5 328.2" stroke="#10b090"/><path d="M175.9 325.8 L188.4 273.4 L200.8 311.0 L213.3 335.4 L225.7 349.7 L238.2 288.4 L250.6 297.6 L263.0 356.3 L275.5 357.2 L287.9 253.2 L300.4 263.0 L312.8 315.7 L325.2 329.6 L337.7 203.3 L350.1 223.2 L362.6 276.8 L375.0 287.1 L387.5 263.6 L399.9 316.7 L412.3 338.1 L424.8 355.7 L437.2 276.7 L449.7 280.1 L462.1 330.1 L474.6 324.5 L487.0 287.3 L499.4 301.0 L511.9 312.7 L524.3 324.0 L536.8 260.7 L549.2 302.7 L561.7 328.9 L574.1 340.5 L586.5 296.1 L599.0 315.2 L611.4 332.8 L623.9 352.5 L636.3 288.3 L648.8 323.6 L661.2 348.0 L673.6 343.4 L686.1 282.4 L698.5 279.1 L711.0 299.0 L723.4 324.1 L735.8 268.9 L748.3 268.9 L760.7 289.9 L773.2 311.3 L785.6 233.5 L798.1 294.8 L810.5 324.9" stroke="#10b060"/><path d="M175.9 321.6 L188.4 274.2 L200.8 300.2 L213.3 333.1 L225.7 343.1 L238.2 265.7 L250.6 283.8 L263.0 339.0 L275.5 342.4 L287.9 238.0 L300.4 249.6 L312.8 300.4 L325.2 302.9 L337.7 186.8 L350.1 199.3 L362.6 258.8 L375.0 267.5 L387.5 209.4 L399.9 282.5 L412.3 280.7 L424.8 322.6 L437.2 249.8 L449.7 273.1 L462.1 314.4 L474.6 320.8 L487.0 277.3 L499.4 301.2 L511.9 314.9 L524.3 324.0 L536.8 289.9 L549.2 305.1 L561.7 325.7 L574.1 323.1 L586.5 288.1 L599.0 319.0 L611.4 339.8 L623.9 369.1 L636.3 315.0 L648.8 336.8 L661.2 337.1 L673.6 354.7 L686.1 306.6 L698.5 269.0 L711.0 306.5 L723.4 328.3 L735.8 282.4 L748.3 284.7 L760.7 347.0 L773.2 319.6 L785.6 278.8 L798.1 279.2 L810.5 319.8" stroke="#10b048"/><path d="M175.9 318.9 L188.4 273.0 L200.8 313.7 L213.3 343.7 L225.7 354.0 L238.2 282.5 L250.6 293.4 L263.0 361.9 L275.5 366.9 L287.9 265.6 L300.4 283.6 L312.8 314.4 L325.2 331.7 L337.7 199.8 L350.1 228.8 L362.6 259.0 L375.0 282.1 L387.5 251.7 L399.9 306.8 L412.3 337.0 L424.8 318.6 L437.2 256.2 L449.7 292.8 L462.1 318.7 L474.6 303.3 L487.0 267.2 L499.4 301.7 L511.9 325.4 L524.3 333.4 L536.8 290.3 L549.2 308.4 L561.7 329.9 L574.1 343.1 L586.5 287.6 L599.0 290.9 L611.4 321.6 L623.9 362.7 L636.3 300.6 L648.8 347.0 L661.2 320.7 L673.6 345.5 L686.1 288.9 L698.5 299.0 L711.0 316.3 L723.4 334.3 L735.8 287.0 L748.3 313.1 L760.7 325.6 L773.2 316.2 L785.6 247.1 L798.1 298.8 L810.5 339.7" stroke="#10c020"/><path d="M175.9 320.1 L188.4 276.6 L200.8 304.3 L213.3 342.7 L225.7 354.4 L238.2 280.5 L250.6 293.2 L263.0 357.0 L275.5 373.1 L287.9 268.0 L300.4 278.9 L312.8 321.8 L325.2 337.4 L337.7 210.5 L350.1 231.4 L362.6 283.7 L375.0 279.1 L387.5 239.0 L399.9 276.1 L412.3 303.3 L424.8 299.7 L437.2 226.7 L449.7 262.1 L462.1 313.6 L474.6 301.6 L487.0 265.2 L499.4 294.5 L511.9 326.1 L524.3 326.4 L536.8 299.9 L549.2 334.3 L561.7 340.5 L574.1 329.7 L586.5 296.8 L599.0 308.3 L611.4 337.6 L623.9 341.0 L636.3 273.0 L648.8 323.9 L661.2 328.0 L673.6 324.4 L686.1 291.9 L698.5 263.5 L711.0 316.1 L723.4 331.1 L735.8 299.8 L748.3 303.6 L760.7 306.4 L773.2 326.4 L785.6 266.2 L798.1 282.3 L810.5 332.7" stroke="#10d010"/></g>
<path d="M175.9 319.6 L188.4 271.4 L200.8 302.2 L213.3 336.0 L225.7 346.6 L238.2 278.2 L250.6 294.5 L263.0 356.2 L275.5 358.1 L287.9 253.1 L300.4 267.6 L312.8 311.9 L325.2 327.3 L337.7 205.9 L350.1 227.1 L362.6 275.3 L375.0 295.5 L387.5 261.8 L399.9 299.4 L412.3 323.4 L424.8 335.0 L437.2 272.4 L449.7 291.6 L462.1 323.4 L474.6 327.3 L487.0 290.7 L499.4 310.9 L511.9 326.3 L524.3 330.2 L536.8 294.5 L549.2 317.7 L561.7 337.9 L574.1 344.6 L586.5 301.3 L599.0 319.6 L611.4 347.5 L623.9 353.3 L636.3 298.4 L648.8 323.4 L661.2 338.9 L673.6 341.8 L686.1 290.7 L698.5 301.3 L711.0 323.4 L723.4 335.0 L735.8 288.8 L748.3 305.1 L760.7 330.2 L773.2 341.8 L785.6 286.8 L798.1 310.9 L810.5 336.9" stroke="#f0f0f0" stroke-width="2.3" fill="none" stroke-linejoin="round"/>
<path d="M175.9 310.9 L188.4 263.7 L200.8 297.4 L213.3 334.0 L225.7 342.7 L238.2 272.4 L250.6 287.8 L263.0 355.2 L275.5 356.2 L287.9 249.2 L300.4 267.6 L312.8 310.0 L325.2 323.4 L337.7 197.2 L350.1 220.3 L362.6 261.8 L375.0 282.0 L387.5 249.2 L399.9 282.0 L412.3 309.0 L424.8 319.6 L437.2 261.8 L449.7 294.5 L462.1 321.5 L474.6 326.3 L487.0 300.3 L499.4 313.8 L511.9 335.0 L524.3 340.8 L536.8 308.0 L549.2 330.2 L561.7 351.4 L574.1 357.2 L586.5 308.0 L599.0 330.2 L611.4 358.1 L623.9 360.1 L636.3 321.5 L648.8 343.7 L661.2 366.8 L673.6 370.7 L686.1 308.0 L698.5 327.3 L711.0 299.4 L723.4 297.4 L735.8 286.8 L748.3 313.8 L760.7 338.9 L773.2 345.6 L785.6 297.4 L798.1 318.6 L810.5 355.2" stroke="#10e810" stroke-width="3.0" fill="none" stroke-linejoin="round"/>
<g fill="none" stroke-width="1" stroke-linejoin="round"><path d="M175.9 560.5 L188.4 558.7 L200.8 500.9 L213.3 560.5 L225.7 560.5 L238.2 559.4 L250.6 560.5 L263.0 560.5 L275.5 560.5 L287.9 560.5 L300.4 560.5 L312.8 560.5 L325.2 560.5 L337.7 560.5 L350.1 560.5 L362.6 560.5 L375.0 539.6 L387.5 560.5 L399.9 533.5 L412.3 555.9 L424.8 560.5 L437.2 533.3 L449.7 529.3 L462.1 560.5 L474.6 560.5 L487.0 560.5 L499.4 560.5 L511.9 542.7 L524.3 485.4 L536.8 556.5 L549.2 559.9 L561.7 559.4 L574.1 558.3 L586.5 558.8 L599.0 480.6 L611.4 544.7 L623.9 557.2 L636.3 560.5 L648.8 560.5 L661.2 560.5 L673.6 537.2 L686.1 560.5 L698.5 545.3 L711.0 558.5 L723.4 555.7 L735.8 560.5 L748.3 557.4 L760.7 560.5 L773.2 535.8 L785.6 553.6 L798.1 560.5 L810.5 560.5" stroke="#1030c8"/><path d="M175.9 560.5 L188.4 559.7 L200.8 507.5 L213.3 560.3 L225.7 560.5 L238.2 558.7 L250.6 560.5 L263.0 560.5 L275.5 560.5 L287.9 560.5 L300.4 560.5 L312.8 560.5 L325.2 560.5 L337.7 560.5 L350.1 558.0 L362.6 556.3 L375.0 538.4 L387.5 555.8 L399.9 361.8 L412.3 558.9 L424.8 560.5 L437.2 560.5 L449.7 560.4 L462.1 556.0 L474.6 560.5 L487.0 555.7 L499.4 524.1 L511.9 543.2 L524.3 559.8 L536.8 560.5 L549.2 560.5 L561.7 556.1 L574.1 560.5 L586.5 556.4 L599.0 560.5 L611.4 560.5 L623.9 560.5 L636.3 560.5 L648.8 560.5 L661.2 551.8 L673.6 551.8 L686.1 515.3 L698.5 555.1 L711.0 560.5 L723.4 560.5 L735.8 560.5 L748.3 558.6 L760.7 549.8 L773.2 490.8 L785.6 560.5 L798.1 560.5 L810.5 560.5" stroke="#1050d0"/><path d="M175.9 560.5 L188.4 559.5 L200.8 512.8 L213.3 560.2 L225.7 560.5 L238.2 558.2 L250.6 557.7 L263.0 560.5 L275.5 560.5 L287.9 560.5 L300.4 560.5 L312.8 560.5 L325.2 560.5 L337.7 560.5 L350.1 558.1 L362.6 527.8 L375.0 521.4 L387.5 533.5 L399.9 556.4 L412.3 557.0 L424.8 556.9 L437.2 558.2 L449.7 555.3 L462.1 523.3 L474.6 508.2 L487.0 487.6 L499.4 420.1 L511.9 547.4 L524.3 550.6 L536.8 560.5 L549.2 560.5 L561.7 536.5 L574.1 544.2 L586.5 527.0 L599.0 544.1 L611.4 557.0 L623.9 555.1 L636.3 521.5 L648.8 547.8 L661.2 557.7 L673.6 554.2 L686.1 557.4 L698.5 524.5 L711.0 557.7 L723.4 551.6 L735.8 517.4 L748.3 555.8 L760.7 503.6 L773.2 559.5 L785.6 536.8 L798.1 558.0 L810.5 560.5" stroke="#1880d8"/><path d="M175.9 560.5 L188.4 559.6 L200.8 518.1 L213.3 559.7 L225.7 560.5 L238.2 560.5 L250.6 560.2 L263.0 560.5 L275.5 560.5 L287.9 560.5 L300.4 560.5 L312.8 560.5 L325.2 560.5 L337.7 560.5 L350.1 559.5 L362.6 517.5 L375.0 559.7 L387.5 523.7 L399.9 541.1 L412.3 557.6 L424.8 560.5 L437.2 558.7 L449.7 554.4 L462.1 517.6 L474.6 559.3 L487.0 557.7 L499.4 558.4 L511.9 556.3 L524.3 555.5 L536.8 556.5 L549.2 560.5 L561.7 560.5 L574.1 560.5 L586.5 560.5 L599.0 555.8 L611.4 556.7 L623.9 555.9 L636.3 532.7 L648.8 560.5 L661.2 560.5 L673.6 547.1 L686.1 549.3 L698.5 539.8 L711.0 556.5 L723.4 560.5 L735.8 560.5 L748.3 560.5 L760.7 560.5 L773.2 555.9 L785.6 555.2 L798.1 555.8 L810.5 556.6" stroke="#20a0d8"/><path d="M175.9 560.5 L188.4 560.5 L200.8 520.8 L213.3 560.2 L225.7 560.5 L238.2 560.5 L250.6 560.5 L263.0 560.5 L275.5 560.5 L287.9 560.5 L300.4 560.5 L312.8 560.5 L325.2 560.5 L337.7 560.5 L350.1 560.5 L362.6 551.0 L375.0 549.5 L387.5 555.9 L399.9 445.2 L412.3 538.3 L424.8 559.4 L437.2 560.1 L449.7 540.0 L462.1 498.9 L474.6 525.2 L487.0 560.5 L499.4 560.5 L511.9 560.5 L524.3 515.5 L536.8 549.8 L549.2 560.4 L561.7 560.5 L574.1 560.5 L586.5 560.5 L599.0 558.6 L611.4 553.2 L623.9 560.5 L636.3 560.5 L648.8 560.5 L661.2 560.5 L673.6 552.1 L686.1 546.1 L698.5 560.5 L711.0 534.4 L723.4 535.2 L735.8 560.5 L748.3 530.9 L760.7 560.5 L773.2 560.5 L785.6 543.0 L798.1 560.5 L810.5 544.7" stroke="#18b0c0"/><path d="M175.9 560.5 L188.4 560.5 L200.8 526.0 L213.3 560.1 L225.7 560.5 L238.2 555.7 L250.6 557.4 L263.0 560.5 L275.5 560.5 L287.9 560.5 L300.4 560.5 L312.8 560.5 L325.2 560.5 L337.7 560.5 L350.1 558.5 L362.6 557.4 L375.0 468.7 L387.5 557.7 L399.9 476.5 L412.3 558.4 L424.8 560.5 L437.2 557.6 L449.7 560.5 L462.1 458.5 L474.6 560.5 L487.0 504.4 L499.4 558.0 L511.9 467.8 L524.3 551.7 L536.8 528.3 L549.2 478.3 L561.7 541.0 L574.1 560.5 L586.5 560.5 L599.0 560.5 L611.4 557.2 L623.9 556.8 L636.3 560.5 L648.8 559.7 L661.2 556.9 L673.6 559.2 L686.1 560.5 L698.5 527.6 L711.0 560.5 L723.4 515.4 L735.8 556.3 L748.3 556.1 L760.7 560.5 L773.2 560.5 L785.6 558.2 L798.1 560.5 L810.5 549.6" stroke="#10b090"/><path d="M175.9 560.5 L188.4 559.3 L200.8 534.0 L213.3 560.5 L225.7 560.5 L238.2 557.1 L250.6 558.5 L263.0 560.5 L275.5 560.5 L287.9 560.5 L300.4 560.5 L312.8 560.5 L325.2 560.5 L337.7 560.5 L350.1 555.0 L362.6 560.5 L375.0 510.9 L387.5 555.3 L399.9 506.7 L412.3 547.1 L424.8 558.1 L437.2 552.9 L449.7 560.5 L462.1 551.3 L474.6 478.2 L487.0 521.0 L499.4 556.0 L511.9 560.5 L524.3 560.5 L536.8 560.5 L549.2 550.6 L561.7 556.6 L574.1 546.3 L586.5 475.3 L599.0 557.4 L611.4 560.5 L623.9 559.5 L636.3 555.8 L648.8 560.5 L661.2 560.5 L673.6 560.5 L686.1 560.5 L698.5 560.3 L711.0 553.5 L723.4 551.8 L735.8 560.5 L748.3 560.5 L760.7 560.5 L773.2 559.5 L785.6 550.2 L798.1 560.5 L810.5 560.5" stroke="#10b060"/><path d="M175.9 560.5 L188.4 559.6 L200.8 539.3 L213.3 560.3 L225.7 560.5 L238.2 560.2 L250.6 559.7 L263.0 560.5 L275.5 560.5 L287.9 560.5 L300.4 560.5 L312.8 560.5 L325.2 560.5 L337.7 560.5 L350.1 553.4 L362.6 550.8 L375.0 315.4 L387.5 557.7 L399.9 555.6 L412.3 555.9 L424.8 560.5 L437.2 560.5 L449.7 560.5 L462.1 560.5 L474.6 560.5 L487.0 545.8 L499.4 548.4 L511.9 560.5 L524.3 557.8 L536.8 556.4 L549.2 549.9 L561.7 560.5 L574.1 560.5 L586.5 534.8 L599.0 554.0 L611.4 556.0 L623.9 560.5 L636.3 560.5 L648.8 558.4 L661.2 549.1 L673.6 560.5 L686.1 533.5 L698.5 560.5 L711.0 560.5 L723.4 556.9 L735.8 519.7 L748.3 559.6 L760.7 555.3 L773.2 537.8 L785.6 558.1 L798.1 558.7 L810.5 560.5" stroke="#10b048"/><path d="M175.9 560.5 L188.4 560.0 L200.8 544.6 L213.3 560.1 L225.7 560.5 L238.2 558.5 L250.6 560.5 L263.0 560.5 L275.5 560.5 L287.9 560.5 L300.4 560.5 L312.8 560.5 L325.2 560.5 L337.7 560.5 L350.1 558.0 L362.6 534.3 L375.0 483.8 L387.5 535.5 L399.9 497.0 L412.3 556.5 L424.8 558.3 L437.2 560.5 L449.7 559.1 L462.1 560.5 L474.6 560.5 L487.0 556.4 L499.4 508.9 L511.9 559.5 L524.3 542.8 L536.8 552.7 L549.2 547.9 L561.7 560.5 L574.1 558.8 L586.5 557.7 L599.0 560.5 L611.4 559.4 L623.9 560.5 L636.3 560.5 L648.8 556.5 L661.2 559.9 L673.6 560.5 L686.1 560.5 L698.5 479.5 L711.0 514.4 L723.4 557.5 L735.8 560.5 L748.3 538.2 L760.7 524.3 L773.2 560.5 L785.6 560.5 L798.1 554.9 L810.5 531.1" stroke="#10c020"/><path d="M175.9 560.5 L188.4 557.9 L200.8 547.2 L213.3 559.7 L225.7 560.5 L238.2 556.8 L250.6 560.5 L263.0 560.5 L275.5 560.5 L287.9 560.5 L300.4 560.5 L312.8 560.5 L325.2 560.5 L337.7 560.5 L350.1 560.5 L362.6 541.2 L375.0 543.3 L387.5 473.1 L399.9 532.9 L412.3 507.0 L424.8 559.1 L437.2 556.3 L449.7 551.6 L462.1 551.3 L474.6 560.5 L487.0 560.5 L499.4 545.5 L511.9 560.5 L524.3 560.5 L536.8 554.6 L549.2 477.5 L561.7 560.5 L574.1 559.4 L586.5 558.8 L599.0 560.5 L611.4 552.5 L623.9 560.5 L636.3 546.0 L648.8 560.5 L661.2 559.1 L673.6 557.4 L686.1 558.8 L698.5 547.3 L711.0 560.5 L723.4 560.5 L735.8 560.5 L748.3 557.7 L760.7 559.7 L773.2 560.5 L785.6 474.6 L798.1 555.8 L810.5 560.5" stroke="#10d010"/><path d="M175.9 560.5 L188.4 559.8 L200.8 491.6 L213.3 559.6 L225.7 560.5 L238.2 558.7 L250.6 560.5 L263.0 560.5 L275.5 560.5 L287.9 560.5 L300.4 560.5 L312.8 560.5 L325.2 560.5 L337.7 560.5 L350.1 556.4 L362.6 560.5 L375.0 560.5 L387.5 556.7 L399.9 558.5 L412.3 556.2 L424.8 555.9 L437.2 558.0 L449.7 560.5 L462.1 534.0 L474.6 422.7 L487.0 557.3 L499.4 548.4 L511.9 514.6 L524.3 515.9 L536.8 552.4 L549.2 555.2 L561.7 547.2 L574.1 554.4 L586.5 527.8 L599.0 560.5 L611.4 555.2 L623.9 558.7 L636.3 560.5 L648.8 555.3 L661.2 560.5 L673.6 530.3 L686.1 544.4 L698.5 496.7 L711.0 560.5 L723.4 229.2 L735.8 558.1 L748.3 540.4 L760.7 560.5 L773.2 552.3 L785.6 549.4 L798.1 560.5 L810.5 560.5" stroke="#d8d010"/><path d="M175.9 560.5 L188.4 559.4 L200.8 486.3 L213.3 560.5 L225.7 560.5 L238.2 560.5 L250.6 560.5 L263.0 560.5 L275.5 560.5 L287.9 560.5 L300.4 560.5 L312.8 560.5 L325.2 560.5 L337.7 560.5 L350.1 560.5 L362.6 560.5 L375.0 555.6 L387.5 560.5 L399.9 558.1 L412.3 553.8 L424.8 560.5 L437.2 560.5 L449.7 554.1 L462.1 560.5 L474.6 547.7 L487.0 526.3 L499.4 526.4 L511.9 554.2 L524.3 534.8 L536.8 466.4 L549.2 555.3 L561.7 555.1 L574.1 553.0 L586.5 558.9 L599.0 548.0 L611.4 558.7 L623.9 560.5 L636.3 519.2 L648.8 507.5 L661.2 560.5 L673.6 554.8 L686.1 550.8 L698.5 555.6 L711.0 560.5 L723.4 538.6 L735.8 255.8 L748.3 534.4 L760.7 560.5 L773.2 560.5 L785.6 560.5 L798.1 560.5 L810.5 500.2" stroke="#d0b010"/><path d="M175.9 560.5 L188.4 560.5 L200.8 482.3 L213.3 559.4 L225.7 560.5 L238.2 558.6 L250.6 559.6 L263.0 560.5 L275.5 560.5 L287.9 560.5 L300.4 560.5 L312.8 560.5 L325.2 560.5 L337.7 560.5 L350.1 557.4 L362.6 560.5 L375.0 535.2 L387.5 560.5 L399.9 559.0 L412.3 549.4 L424.8 555.4 L437.2 560.5 L449.7 560.5 L462.1 532.0 L474.6 558.0 L487.0 505.1 L499.4 510.4 L511.9 544.1 L524.3 537.0 L536.8 560.5 L549.2 269.0 L561.7 560.5 L574.1 558.4 L586.5 559.7 L599.0 557.5 L611.4 560.5 L623.9 558.1 L636.3 541.9 L648.8 556.1 L661.2 548.2 L673.6 536.6 L686.1 522.8 L698.5 528.6 L711.0 558.1 L723.4 539.8 L735.8 560.5 L748.3 559.9 L760.7 560.5 L773.2 548.6 L785.6 528.2 L798.1 560.5 L810.5 560.5" stroke="#d8a010"/><path d="M175.9 560.5 L188.4 560.5 L200.8 478.4 L213.3 560.5 L225.7 560.5 L238.2 559.4 L250.6 560.5 L263.0 560.5 L275.5 560.5 L287.9 560.5 L300.4 560.5 L312.8 560.5 L325.2 560.5 L337.7 560.5 L350.1 557.4 L362.6 557.0 L375.0 548.8 L387.5 555.8 L399.9 560.5 L412.3 522.6 L424.8 558.3 L437.2 536.6 L449.7 559.2 L462.1 556.4 L474.6 553.3 L487.0 560.5 L499.4 560.5 L511.9 560.5 L524.3 556.1 L536.8 560.5 L549.2 560.5 L561.7 523.1 L574.1 558.6 L586.5 537.4 L599.0 533.1 L611.4 560.5 L623.9 557.8 L636.3 555.1 L648.8 560.5 L661.2 556.0 L673.6 550.3 L686.1 560.5 L698.5 532.3 L711.0 541.7 L723.4 533.0 L735.8 546.6 L748.3 560.5 L760.7 556.2 L773.2 560.5 L785.6 474.6 L798.1 548.2 L810.5 560.5" stroke="#d89010"/><path d="M175.9 560.5 L188.4 560.5 L200.8 481.0 L213.3 559.9 L225.7 560.5 L238.2 560.5 L250.6 559.8 L263.0 560.5 L275.5 560.5 L287.9 560.5 L300.4 560.5 L312.8 560.5 L325.2 560.5 L337.7 560.5 L350.1 560.5 L362.6 560.5 L375.0 560.5 L387.5 420.1 L399.9 555.4 L412.3 560.5 L424.8 556.3 L437.2 559.1 L449.7 555.5 L462.1 539.0 L474.6 559.6 L487.0 396.2 L499.4 521.6 L511.9 516.7 L524.3 560.5 L536.8 559.9 L549.2 560.5 L561.7 560.4 L574.1 535.4 L586.5 560.5 L599.0 555.2 L611.4 553.2 L623.9 559.1 L636.3 560.5 L648.8 554.9 L661.2 552.0 L673.6 544.3 L686.1 560.5 L698.5 560.5 L711.0 559.5 L723.4 557.1 L735.8 478.2 L748.3 560.5 L760.7 560.1 L773.2 421.4 L785.6 551.4 L798.1 555.6 L810.5 560.5" stroke="#d88010"/><path d="M175.9 560.5 L188.4 560.5 L200.8 488.9 L213.3 560.5 L225.7 560.5 L238.2 560.0 L250.6 556.7 L263.0 560.5 L275.5 560.5 L287.9 560.5 L300.4 560.5 L312.8 560.5 L325.2 560.5 L337.7 560.5 L350.1 552.8 L362.6 552.2 L375.0 560.5 L387.5 560.5 L399.9 420.1 L412.3 558.5 L424.8 557.1 L437.2 560.5 L449.7 553.6 L462.1 549.9 L474.6 560.5 L487.0 559.5 L499.4 557.4 L511.9 560.5 L524.3 517.5 L536.8 556.2 L549.2 560.5 L561.7 558.3 L574.1 555.7 L586.5 560.5 L599.0 560.5 L611.4 548.7 L623.9 556.1 L636.3 558.1 L648.8 527.4 L661.2 556.3 L673.6 560.5 L686.1 551.0 L698.5 503.1 L711.0 502.4 L723.4 539.8 L735.8 560.5 L748.3 558.0 L760.7 560.5 L773.2 560.5 L785.6 545.6 L798.1 556.0 L810.5 558.9" stroke="#c87010"/><path d="M175.9 560.5 L188.4 559.5 L200.8 494.2 L213.3 559.8 L225.7 560.5 L238.2 558.0 L250.6 560.5 L263.0 560.5 L275.5 560.5 L287.9 560.5 L300.4 560.5 L312.8 560.5 L325.2 560.5 L337.7 560.5 L350.1 559.4 L362.6 547.0 L375.0 546.4 L387.5 555.4 L399.9 560.5 L412.3 549.5 L424.8 555.8 L437.2 560.5 L449.7 557.0 L462.1 550.9 L474.6 555.6 L487.0 560.5 L499.4 560.5 L511.9 547.4 L524.3 542.1 L536.8 555.6 L549.2 560.5 L561.7 556.3 L574.1 555.9 L586.5 539.9 L599.0 546.4 L611.4 558.9 L623.9 559.9 L636.3 541.0 L648.8 560.5 L661.2 560.5 L673.6 554.3 L686.1 549.0 L698.5 560.5 L711.0 540.4 L723.4 500.0 L735.8 560.5 L748.3 560.5 L760.7 552.4 L773.2 479.3 L785.6 559.0 L798.1 550.1 L810.5 556.1" stroke="#c86010"/><path d="M175.9 560.5 L188.4 559.8 L200.8 499.6 L213.3 560.5 L225.7 560.5 L238.2 560.2 L250.6 559.8 L263.0 560.5 L275.5 560.5 L287.9 560.5 L300.4 560.5 L312.8 560.5 L325.2 560.5 L337.7 560.5 L350.1 558.2 L362.6 558.2 L375.0 560.5 L387.5 560.5 L399.9 558.1 L412.3 560.5 L424.8 555.6 L437.2 554.3 L449.7 548.9 L462.1 487.4 L474.6 560.5 L487.0 537.6 L499.4 500.2 L511.9 555.3 L524.3 560.5 L536.8 545.2 L549.2 533.6 L561.7 553.6 L574.1 557.8 L586.5 551.2 L599.0 560.5 L611.4 539.7 L623.9 559.8 L636.3 554.1 L648.8 532.4 L661.2 560.5 L673.6 560.5 L686.1 551.1 L698.5 560.5 L711.0 560.5 L723.4 560.5 L735.8 558.5 L748.3 560.5 L760.7 560.5 L773.2 553.5 L785.6 560.5 L798.1 560.5 L810.5 551.2" stroke="#c04818"/><path d="M175.9 560.5 L188.4 548.6 L200.8 504.9 L213.3 559.5 L225.7 560.5 L238.2 560.5 L250.6 557.0 L263.0 560.5 L275.5 560.5 L287.9 560.5 L300.4 560.5 L312.8 560.5 L325.2 560.5 L337.7 560.5 L350.1 560.5 L362.6 535.3 L375.0 530.4 L387.5 560.5 L399.9 560.1 L412.3 450.5 L424.8 558.1 L437.2 547.8 L449.7 560.5 L462.1 560.5 L474.6 560.5 L487.0 547.2 L499.4 453.2 L511.9 521.1 L524.3 509.6 L536.8 558.4 L549.2 560.5 L561.7 559.7 L574.1 554.3 L586.5 535.6 L599.0 478.3 L611.4 558.2 L623.9 560.5 L636.3 560.5 L648.8 510.2 L661.2 557.2 L673.6 516.1 L686.1 524.4 L698.5 557.9 L711.0 560.5 L723.4 560.5 L735.8 555.5 L748.3 527.0 L760.7 549.3 L773.2 545.6 L785.6 555.6 L798.1 560.5 L810.5 557.2" stroke="#b83818"/><path d="M175.9 560.5 L188.4 558.1 L200.8 510.1 L213.3 559.3 L225.7 560.5 L238.2 558.6 L250.6 557.6 L263.0 560.5 L275.5 560.5 L287.9 560.5 L300.4 560.5 L312.8 560.5 L325.2 560.5 L337.7 560.5 L350.1 560.5 L362.6 520.0 L375.0 536.1 L387.5 534.5 L399.9 560.5 L412.3 560.5 L424.8 557.8 L437.2 559.0 L449.7 554.6 L462.1 543.5 L474.6 560.5 L487.0 560.5 L499.4 550.5 L511.9 558.9 L524.3 422.7 L536.8 560.5 L549.2 560.5 L561.7 551.8 L574.1 557.6 L586.5 560.4 L599.0 513.8 L611.4 553.2 L623.9 559.1 L636.3 557.7 L648.8 560.5 L661.2 553.2 L673.6 556.4 L686.1 560.5 L698.5 557.0 L711.0 560.5 L723.4 558.9 L735.8 502.0 L748.3 552.4 L760.7 549.2 L773.2 505.6 L785.6 555.3 L798.1 555.2 L810.5 558.4" stroke="#a82020"/><path d="M175.9 560.5 L188.4 560.5 L200.8 509.8 L213.3 560.5 L225.7 560.5 L238.2 557.3 L250.6 559.8 L263.0 560.5 L275.5 560.5 L287.9 560.5 L300.4 560.5 L312.8 560.5 L325.2 560.5 L337.7 560.5 L350.1 558.7 L362.6 559.9 L375.0 531.9 L387.5 552.2 L399.9 560.5 L412.3 556.0 L424.8 559.0 L437.2 560.5 L449.7 555.7 L462.1 560.5 L474.6 558.5 L487.0 560.5 L499.4 531.2 L511.9 518.3 L524.3 560.5 L536.8 514.3 L549.2 556.8 L561.7 555.2 L574.1 560.2 L586.5 547.2 L599.0 560.5 L611.4 560.5 L623.9 560.5 L636.3 557.5 L648.8 551.5 L661.2 556.8 L673.6 551.7 L686.1 558.6 L698.5 560.5 L711.0 556.2 L723.4 558.3 L735.8 536.9 L748.3 544.3 L760.7 555.6 L773.2 535.6 L785.6 551.8 L798.1 556.3 L810.5 529.9" stroke="#1030c8"/><path d="M175.9 560.5 L188.4 560.5 L200.8 515.5 L213.3 559.2 L225.7 560.5 L238.2 557.5 L250.6 558.7 L263.0 560.5 L275.5 560.5 L287.9 560.5 L300.4 560.5 L312.8 560.5 L325.2 560.5 L337.7 560.5 L350.1 556.3 L362.6 542.4 L375.0 536.2 L387.5 560.5 L399.9 472.1 L412.3 560.1 L424.8 560.5 L437.2 560.5 L449.7 559.9 L462.1 560.5 L474.6 560.5 L487.0 560.0 L499.4 558.2 L511.9 560.5 L524.3 558.0 L536.8 560.5 L549.2 428.0 L561.7 560.5 L574.1 557.8 L586.5 559.1 L599.0 560.5 L611.4 560.5 L623.9 557.7 L636.3 560.5 L648.8 549.6 L661.2 556.3 L673.6 556.3 L686.1 514.6 L698.5 560.5 L711.0 560.5 L723.4 560.5 L735.8 533.9 L748.3 537.7 L760.7 544.6 L773.2 528.6 L785.6 559.9 L798.1 560.4 L810.5 560.5" stroke="#1050d0"/><path d="M175.9 560.5 L188.4 560.2 L200.8 520.0 L213.3 560.2 L225.7 560.5 L238.2 560.5 L250.6 560.2 L263.0 560.5 L275.5 560.5 L287.9 560.5 L300.4 560.5 L312.8 560.5 L325.2 560.5 L337.7 560.5 L350.1 560.5 L362.6 559.2 L375.0 481.3 L387.5 560.5 L399.9 560.5 L412.3 560.5 L424.8 557.7 L437.2 558.9 L449.7 513.9 L462.1 560.5 L474.6 558.4 L487.0 496.6 L499.4 555.9 L511.9 560.5 L524.3 560.5 L536.8 553.8 L549.2 476.1 L561.7 560.5 L574.1 560.5 L586.5 558.4 L599.0 494.1 L611.4 560.5 L623.9 560.5 L636.3 542.8 L648.8 549.7 L661.2 560.5 L673.6 542.9 L686.1 532.8 L698.5 520.0 L711.0 560.5 L723.4 558.0 L735.8 529.3 L748.3 560.5 L760.7 442.6 L773.2 560.5 L785.6 557.1 L798.1 559.8 L810.5 557.3" stroke="#1880d8"/><path d="M175.9 560.5 L188.4 560.5 L200.8 524.5 L213.3 560.5 L225.7 560.5 L238.2 560.5 L250.6 558.7 L263.0 560.5 L275.5 560.5 L287.9 560.5 L300.4 560.5 L312.8 560.5 L325.2 560.5 L337.7 560.5 L350.1 560.5 L362.6 558.4 L375.0 560.5 L387.5 559.9 L399.9 560.5 L412.3 558.9 L424.8 556.2 L437.2 549.0 L449.7 557.1 L462.1 542.0 L474.6 560.5 L487.0 560.5 L499.4 556.3 L511.9 540.3 L524.3 560.5 L536.8 547.9 L549.2 556.3 L561.7 557.8 L574.1 557.4 L586.5 547.7 L599.0 540.7 L611.4 560.5 L623.9 558.5 L636.3 560.5 L648.8 437.3 L661.2 559.3 L673.6 551.2 L686.1 520.0 L698.5 478.4 L711.0 509.5 L723.4 511.9 L735.8 560.3 L748.3 555.8 L760.7 560.5 L773.2 559.2 L785.6 556.5 L798.1 553.0 L810.5 560.5" stroke="#20a0d8"/><path d="M175.9 560.5 L188.4 558.9 L200.8 526.7 L213.3 559.6 L225.7 560.5 L238.2 559.2 L250.6 560.2 L263.0 560.5 L275.5 560.5 L287.9 560.5 L300.4 560.5 L312.8 560.5 L325.2 560.5 L337.7 560.5 L350.1 557.9 L362.6 481.0 L375.0 560.5 L387.5 560.2 L399.9 516.6 L412.3 560.5 L424.8 560.5 L437.2 558.5 L449.7 556.9 L462.1 550.6 L474.6 560.5 L487.0 552.0 L499.4 560.5 L511.9 550.7 L524.3 539.7 L536.8 556.4 L549.2 560.5 L561.7 560.5 L574.1 560.5 L586.5 558.9 L599.0 560.5 L611.4 553.3 L623.9 539.6 L636.3 558.8 L648.8 554.2 L661.2 554.5 L673.6 546.3 L686.1 551.4 L698.5 398.9 L711.0 555.7 L723.4 516.5 L735.8 560.5 L748.3 549.0 L760.7 560.5 L773.2 560.5 L785.6 560.5 L798.1 560.5 L810.5 554.2" stroke="#18b0c0"/><path d="M175.9 560.5 L188.4 560.5 L200.8 531.2 L213.3 560.5 L225.7 560.5 L238.2 560.5 L250.6 560.5 L263.0 560.5 L275.5 560.5 L287.9 560.5 L300.4 560.5 L312.8 560.5 L325.2 560.5 L337.7 560.5 L350.1 560.5 L362.6 558.2 L375.0 557.4 L387.5 492.7 L399.9 560.5 L412.3 549.9 L424.8 556.6 L437.2 555.4 L449.7 556.5 L462.1 560.5 L474.6 560.5 L487.0 484.4 L499.4 539.2 L511.9 560.5 L524.3 560.5 L536.8 560.5 L549.2 560.5 L561.7 554.8 L574.1 557.4 L586.5 552.9 L599.0 454.5 L611.4 560.5 L623.9 545.3 L636.3 554.3 L648.8 555.6 L661.2 560.5 L673.6 560.5 L686.1 540.8 L698.5 560.5 L711.0 560.5 L723.4 523.7 L735.8 560.5 L748.3 560.5 L760.7 557.4 L773.2 560.5 L785.6 559.9 L798.1 550.8 L810.5 543.3" stroke="#10b090"/><path d="M175.9 560.5 L188.4 560.5 L200.8 538.0 L213.3 560.5 L225.7 560.5 L238.2 559.9 L250.6 559.3 L263.0 560.5 L275.5 560.5 L287.9 560.5 L300.4 560.5 L312.8 560.5 L325.2 560.5 L337.7 560.5 L350.1 552.0 L362.6 560.5 L375.0 560.5 L387.5 555.1 L399.9 560.5 L412.3 560.5 L424.8 560.5 L437.2 556.6 L449.7 553.7 L462.1 539.3 L474.6 560.5 L487.0 560.5 L499.4 531.2 L511.9 537.3 L524.3 560.5 L536.8 560.5 L549.2 560.5 L561.7 560.5 L574.1 557.4 L586.5 559.5 L599.0 560.5 L611.4 560.5 L623.9 556.4 L636.3 543.4 L648.8 555.2 L661.2 560.5 L673.6 550.5 L686.1 545.3 L698.5 545.6 L711.0 560.5 L723.4 560.5 L735.8 474.4 L748.3 529.4 L760.7 560.5 L773.2 538.2 L785.6 551.8 L798.1 558.7 L810.5 560.5" stroke="#10b060"/><path d="M175.9 560.5 L188.4 559.6 L200.8 542.5 L213.3 560.2 L225.7 560.5 L238.2 555.8 L250.6 558.7 L263.0 560.5 L275.5 560.5 L287.9 560.5 L300.4 560.5 L312.8 560.5 L325.2 560.5 L337.7 560.5 L350.1 550.0 L362.6 524.1 L375.0 558.2 L387.5 560.5 L399.9 557.2 L412.3 556.4 L424.8 560.5 L437.2 555.5 L449.7 531.4 L462.1 560.5 L474.6 556.1 L487.0 556.3 L499.4 533.1 L511.9 551.0 L524.3 558.0 L536.8 560.5 L549.2 529.1 L561.7 560.5 L574.1 560.5 L586.5 542.4 L599.0 560.1 L611.4 546.4 L623.9 556.5 L636.3 551.4 L648.8 560.5 L661.2 560.5 L673.6 559.3 L686.1 540.3 L698.5 497.2 L711.0 429.3 L723.4 536.2 L735.8 560.0 L748.3 560.5 L760.7 545.1 L773.2 555.7 L785.6 554.6 L798.1 556.0 L810.5 556.7" stroke="#10b048"/><path d="M175.9 560.5 L188.4 558.6 L200.8 547.0 L213.3 560.5 L225.7 560.5 L238.2 556.0 L250.6 560.5 L263.0 560.5 L275.5 560.5 L287.9 560.5 L300.4 560.5 L312.8 560.5 L325.2 560.5 L337.7 560.5 L350.1 518.4 L362.6 536.9 L375.0 555.4 L387.5 558.1 L399.9 560.5 L412.3 560.5 L424.8 558.2 L437.2 555.2 L449.7 547.3 L462.1 560.5 L474.6 509.7 L487.0 544.9 L499.4 530.2 L511.9 547.7 L524.3 519.8 L536.8 557.2 L549.2 560.5 L561.7 560.5 L574.1 560.5 L586.5 560.5 L599.0 544.5 L611.4 557.2 L623.9 557.6 L636.3 546.1 L648.8 558.5 L661.2 560.5 L673.6 557.1 L686.1 560.4 L698.5 560.5 L711.0 557.0 L723.4 494.1 L735.8 512.0 L748.3 295.5 L760.7 551.3 L773.2 532.1 L785.6 523.8 L798.1 531.2 L810.5 555.9" stroke="#10c020"/><path d="M175.9 560.5 L188.4 559.7 L200.8 549.2 L213.3 559.8 L225.7 560.5 L238.2 560.5 L250.6 557.5 L263.0 560.5 L275.5 560.5 L287.9 560.5 L300.4 560.5 L312.8 560.5 L325.2 560.5 L337.7 560.5 L350.1 558.2 L362.6 556.8 L375.0 558.1 L387.5 560.5 L399.9 560.5 L412.3 560.5 L424.8 560.5 L437.2 560.0 L449.7 556.1 L462.1 538.4 L474.6 560.5 L487.0 480.3 L499.4 560.5 L511.9 560.5 L524.3 560.5 L536.8 541.3 L549.2 560.5 L561.7 557.5 L574.1 560.5 L586.5 554.2 L599.0 522.9 L611.4 558.7 L623.9 556.3 L636.3 542.9 L648.8 517.1 L661.2 557.6 L673.6 560.5 L686.1 560.5 L698.5 546.5 L711.0 553.4 L723.4 558.0 L735.8 557.8 L748.3 560.3 L760.7 548.1 L773.2 540.2 L785.6 558.2 L798.1 539.7 L810.5 543.2" stroke="#10d010"/><path d="M175.9 560.5 L188.4 560.5 L200.8 501.9 L213.3 559.8 L225.7 560.5 L238.2 558.4 L250.6 556.7 L263.0 560.5 L275.5 560.5 L287.9 560.5 L300.4 560.5 L312.8 560.5 L325.2 560.5 L337.7 560.5 L350.1 559.5 L362.6 558.6 L375.0 555.6 L387.5 560.5 L399.9 544.5 L412.3 560.5 L424.8 559.1 L437.2 524.2 L449.7 560.5 L462.1 560.5 L474.6 560.5 L487.0 560.5 L499.4 527.7 L511.9 544.8 L524.3 554.5 L536.8 553.4 L549.2 560.5 L561.7 295.5 L574.1 560.5 L586.5 545.6 L599.0 557.2 L611.4 560.5 L623.9 555.6 L636.3 498.0 L648.8 522.4 L661.2 548.1 L673.6 557.6 L686.1 560.5 L698.5 552.8 L711.0 560.5 L723.4 509.8 L735.8 560.5 L748.3 555.5 L760.7 555.4 L773.2 560.5 L785.6 534.2 L798.1 544.2 L810.5 560.5" stroke="#d8d010"/><path d="M175.9 560.5 L188.4 559.1 L200.8 497.4 L213.3 560.5 L225.7 560.5 L238.2 560.5 L250.6 560.4 L263.0 560.5 L275.5 560.5 L287.9 560.5 L300.4 560.5 L312.8 560.5 L325.2 560.5 L337.7 560.5 L350.1 560.5 L362.6 550.9 L375.0 557.7 L387.5 560.5 L399.9 560.5 L412.3 560.5 L424.8 560.5 L437.2 560.5 L449.7 560.5 L462.1 541.7 L474.6 556.0 L487.0 479.9 L499.4 545.5 L511.9 558.5 L524.3 560.5 L536.8 537.0 L549.2 528.6 L561.7 560.5 L574.1 559.7 L586.5 560.5 L599.0 558.1 L611.4 560.5 L623.9 559.2 L636.3 554.8 L648.8 525.0 L661.2 560.5 L673.6 557.3 L686.1 559.2 L698.5 554.5 L711.0 560.5 L723.4 549.7 L735.8 560.5 L748.3 492.3 L760.7 560.5 L773.2 539.9 L785.6 545.6 L798.1 560.5 L810.5 560.5" stroke="#d0b010"/><path d="M175.9 560.5 L188.4 559.5 L200.8 494.1 L213.3 560.5 L225.7 560.5 L238.2 556.9 L250.6 560.5 L263.0 560.5 L275.5 560.5 L287.9 560.5 L300.4 560.5 L312.8 560.5 L325.2 560.5 L337.7 560.5 L350.1 560.5 L362.6 551.1 L375.0 556.8 L387.5 557.9 L399.9 560.5 L412.3 560.5 L424.8 556.7 L437.2 560.5 L449.7 560.5 L462.1 472.0 L474.6 514.8 L487.0 560.4 L499.4 538.6 L511.9 524.4 L524.3 560.5 L536.8 523.3 L549.2 532.4 L561.7 557.4 L574.1 558.9 L586.5 555.6 L599.0 560.5 L611.4 557.4 L623.9 558.1 L636.3 544.4 L648.8 528.9 L661.2 558.9 L673.6 552.7 L686.1 560.5 L698.5 560.5 L711.0 552.3 L723.4 558.6 L735.8 560.5 L748.3 560.5 L760.7 556.2 L773.2 557.3 L785.6 560.5 L798.1 560.5 L810.5 533.1" stroke="#d8a010"/><path d="M175.9 560.5 L188.4 560.5 L200.8 490.7 L213.3 560.5 L225.7 560.5 L238.2 560.5 L250.6 558.0 L263.0 560.5 L275.5 560.5 L287.9 560.5 L300.4 560.5 L312.8 560.5 L325.2 560.5 L337.7 560.5 L350.1 556.7 L362.6 560.5 L375.0 477.2 L387.5 533.7 L399.9 560.5 L412.3 558.4 L424.8 556.1 L437.2 557.6 L449.7 560.5 L462.1 560.5 L474.6 560.5 L487.0 557.9 L499.4 560.5 L511.9 551.0 L524.3 558.0 L536.8 542.0 L549.2 557.7 L561.7 542.1 L574.1 560.5 L586.5 477.4 L599.0 530.4 L611.4 536.4 L623.9 560.5 L636.3 542.9 L648.8 545.1 L661.2 555.1 L673.6 537.9 L686.1 552.8 L698.5 470.6 L711.0 560.5 L723.4 510.9 L735.8 560.5 L748.3 560.5 L760.7 556.5 L773.2 550.8 L785.6 558.8 L798.1 555.6 L810.5 552.5" stroke="#d89010"/><path d="M175.9 560.5 L188.4 558.9 L200.8 492.9 L213.3 560.2 L225.7 560.5 L238.2 558.3 L250.6 559.4 L263.0 560.5 L275.5 560.5 L287.9 560.5 L300.4 560.5 L312.8 560.5 L325.2 560.5 L337.7 560.5 L350.1 559.8 L362.6 560.5 L375.0 558.7 L387.5 520.9 L399.9 534.1 L412.3 558.7 L424.8 560.5 L437.2 553.2 L449.7 551.9 L462.1 556.2 L474.6 536.2 L487.0 493.2 L499.4 495.1 L511.9 539.8 L524.3 550.8 L536.8 481.8 L549.2 451.9 L561.7 454.5 L574.1 553.1 L586.5 543.4 L599.0 474.9 L611.4 560.5 L623.9 560.0 L636.3 558.6 L648.8 555.7 L661.2 560.5 L673.6 545.6 L686.1 560.5 L698.5 560.5 L711.0 540.4 L723.4 548.5 L735.8 559.8 L748.3 560.5 L760.7 560.5 L773.2 542.4 L785.6 560.5 L798.1 546.4 L810.5 552.3" stroke="#d88010"/><path d="M175.9 560.5 L188.4 560.1 L200.8 499.7 L213.3 560.5 L225.7 560.5 L238.2 560.5 L250.6 557.4 L263.0 560.5 L275.5 560.5 L287.9 560.5 L300.4 560.5 L312.8 560.5 L325.2 560.5 L337.7 560.5 L350.1 558.3 L362.6 560.5 L375.0 546.5 L387.5 556.1 L399.9 512.9 L412.3 560.5 L424.8 551.6 L437.2 559.0 L449.7 555.9 L462.1 553.4 L474.6 560.5 L487.0 540.4 L499.4 506.4 L511.9 527.9 L524.3 551.5 L536.8 560.5 L549.2 527.4 L561.7 560.5 L574.1 556.7 L586.5 535.3 L599.0 534.8 L611.4 558.8 L623.9 559.7 L636.3 560.5 L648.8 556.8 L661.2 560.5 L673.6 556.6 L686.1 560.5 L698.5 560.5 L711.0 537.3 L723.4 526.2 L735.8 554.3 L748.3 548.6 L760.7 556.7 L773.2 560.5 L785.6 557.7 L798.1 556.1 L810.5 535.1" stroke="#c87010"/><path d="M175.9 560.5 L188.4 560.5 L200.8 504.2 L213.3 559.4 L225.7 560.5 L238.2 559.5 L250.6 560.5 L263.0 560.5 L275.5 560.5 L287.9 560.5 L300.4 560.5 L312.8 560.5 L325.2 560.5 L337.7 560.5 L350.1 560.5 L362.6 544.8 L375.0 560.5 L387.5 559.7 L399.9 542.2 L412.3 550.8 L424.8 560.5 L437.2 553.0 L449.7 555.2 L462.1 560.5 L474.6 560.5 L487.0 552.9 L499.4 533.8 L511.9 560.5 L524.3 559.7 L536.8 531.0 L549.2 488.7 L561.7 550.5 L574.1 560.5 L586.5 556.7 L599.0 560.5 L611.4 546.6 L623.9 559.3 L636.3 556.3 L648.8 533.1 L661.2 556.4 L673.6 560.5 L686.1 556.8 L698.5 560.5 L711.0 559.8 L723.4 559.2 L735.8 560.5 L748.3 529.6 L760.7 555.6 L773.2 560.5 L785.6 546.7 L798.1 559.0 L810.5 558.0" stroke="#c86010"/><path d="M175.9 560.5 L188.4 559.6 L200.8 508.7 L213.3 560.5 L225.7 560.5 L238.2 558.9 L250.6 560.5 L263.0 560.5 L275.5 560.5 L287.9 560.5 L300.4 560.5 L312.8 560.5 L325.2 560.5 L337.7 560.5 L350.1 557.6 L362.6 560.5 L375.0 554.8 L387.5 480.7 L399.9 546.8 L412.3 556.7 L424.8 558.3 L437.2 560.5 L449.7 555.1 L462.1 550.3 L474.6 560.2 L487.0 560.5 L499.4 560.5 L511.9 557.5 L524.3 544.3 L536.8 539.8 L549.2 560.5 L561.7 549.2 L574.1 557.0 L586.5 560.5 L599.0 560.5 L611.4 553.4 L623.9 554.9 L636.3 560.5 L648.8 521.4 L661.2 560.5 L673.6 560.5 L686.1 559.7 L698.5 439.9 L711.0 546.3 L723.4 544.7 L735.8 556.1 L748.3 560.5 L760.7 556.6 L773.2 558.3 L785.6 557.6 L798.1 556.4 L810.5 555.5" stroke="#c04818"/><path d="M175.9 560.5 L188.4 559.4 L200.8 513.2 L213.3 559.7 L225.7 560.5 L238.2 559.5 L250.6 560.5 L263.0 560.5 L275.5 560.5 L287.9 560.5 L300.4 560.5 L312.8 560.5 L325.2 560.5 L337.7 560.5 L350.1 560.2 L362.6 559.9 L375.0 560.5 L387.5 560.5 L399.9 560.5 L412.3 560.5 L424.8 554.7 L437.2 550.3 L449.7 558.2 L462.1 560.5 L474.6 559.4 L487.0 478.1 L499.4 560.5 L511.9 560.4 L524.3 558.2 L536.8 558.5 L549.2 556.3 L561.7 560.5 L574.1 553.6 L586.5 538.3 L599.0 560.5 L611.4 559.4 L623.9 555.3 L636.3 560.5 L648.8 535.1 L661.2 560.5 L673.6 555.3 L686.1 560.5 L698.5 557.5 L711.0 555.5 L723.4 539.5 L735.8 560.5 L748.3 556.9 L760.7 556.9 L773.2 546.9 L785.6 560.5 L798.1 560.5 L810.5 525.0" stroke="#b83818"/><path d="M175.9 560.5 L188.4 557.9 L200.8 517.7 L213.3 559.6 L225.7 560.5 L238.2 560.5 L250.6 560.5 L263.0 560.5 L275.5 560.5 L287.9 560.5 L300.4 560.5 L312.8 560.5 L325.2 560.5 L337.7 560.5 L350.1 560.5 L362.6 549.4 L375.0 560.5 L387.5 558.1 L399.9 560.5 L412.3 554.6 L424.8 560.5 L437.2 560.5 L449.7 556.5 L462.1 560.5 L474.6 517.8 L487.0 549.1 L499.4 557.0 L511.9 553.2 L524.3 544.4 L536.8 539.4 L549.2 560.5 L561.7 560.5 L574.1 560.5 L586.5 560.5 L599.0 559.2 L611.4 555.6 L623.9 556.7 L636.3 560.3 L648.8 548.3 L661.2 555.2 L673.6 560.5 L686.1 552.9 L698.5 560.5 L711.0 522.1 L723.4 555.6 L735.8 513.7 L748.3 560.5 L760.7 545.1 L773.2 514.2 L785.6 559.1 L798.1 554.9 L810.5 560.5" stroke="#a82020"/><path d="M175.9 560.5 L188.4 560.5 L200.8 539.6 L213.3 559.6 L225.7 560.5 L238.2 555.7 L250.6 556.9 L263.0 560.5 L275.5 560.5 L287.9 560.5 L300.4 560.5 L312.8 560.5 L325.2 560.5 L337.7 560.5 L350.1 560.5 L362.6 556.6 L375.0 560.5 L387.5 560.5 L399.9 552.2 L412.3 520.9 L424.8 547.2 L437.2 560.1 L449.7 560.5 L462.1 559.4 L474.6 552.5 L487.0 530.5 L499.4 557.9 L511.9 560.5 L524.3 532.6 L536.8 560.5 L549.2 486.1 L561.7 552.6 L574.1 557.0 L586.5 560.2 L599.0 536.5 L611.4 560.5 L623.9 560.5 L636.3 551.4 L648.8 560.5 L661.2 560.5 L673.6 560.5 L686.1 550.8 L698.5 548.5 L711.0 550.2 L723.4 549.0 L735.8 487.1 L748.3 559.5 L760.7 556.5 L773.2 560.5 L785.6 554.5 L798.1 560.5 L810.5 559.7" stroke="#1030c8"/><path d="M175.9 560.5 L188.4 559.3 L200.8 542.0 L213.3 560.3 L225.7 560.5 L238.2 557.7 L250.6 560.2 L263.0 560.5 L275.5 560.5 L287.9 560.5 L300.4 560.5 L312.8 560.5 L325.2 560.5 L337.7 560.5 L350.1 559.4 L362.6 555.7 L375.0 560.5 L387.5 548.4 L399.9 493.5 L412.3 560.5 L424.8 550.6 L437.2 560.5 L449.7 560.5 L462.1 532.0 L474.6 549.6 L487.0 556.7 L499.4 510.6 L511.9 552.3 L524.3 557.9 L536.8 560.5 L549.2 469.7 L561.7 543.5 L574.1 555.9 L586.5 559.4 L599.0 508.0 L611.4 560.5 L623.9 560.5 L636.3 548.2 L648.8 528.7 L661.2 560.5 L673.6 560.5 L686.1 553.8 L698.5 550.0 L711.0 556.7 L723.4 542.1 L735.8 560.5 L748.3 550.5 L760.7 550.3 L773.2 557.0 L785.6 556.5 L798.1 560.5 L810.5 560.5" stroke="#1050d0"/><path d="M175.9 560.5 L188.4 560.3 L200.8 543.8 L213.3 559.8 L225.7 560.5 L238.2 559.1 L250.6 560.1 L263.0 560.5 L275.5 560.5 L287.9 560.5 L300.4 560.5 L312.8 560.5 L325.2 560.5 L337.7 560.5 L350.1 558.3 L362.6 554.8 L375.0 556.6 L387.5 475.4 L399.9 477.3 L412.3 560.5 L424.8 558.4 L437.2 560.5 L449.7 560.5 L462.1 557.3 L474.6 560.4 L487.0 547.5 L499.4 540.9 L511.9 559.6 L524.3 560.5 L536.8 560.5 L549.2 560.5 L561.7 555.3 L574.1 560.5 L586.5 558.3 L599.0 530.5 L611.4 557.2 L623.9 552.1 L636.3 486.6 L648.8 526.6 L661.2 557.5 L673.6 544.0 L686.1 552.6 L698.5 560.5 L711.0 530.8 L723.4 530.8 L735.8 560.5 L748.3 560.5 L760.7 560.5 L773.2 558.0 L785.6 551.8 L798.1 557.5 L810.5 552.4" stroke="#1880d8"/><path d="M175.9 560.5 L188.4 560.5 L200.8 545.7 L213.3 559.3 L225.7 560.5 L238.2 559.8 L250.6 557.6 L263.0 560.5 L275.5 560.5 L287.9 560.5 L300.4 560.5 L312.8 560.5 L325.2 560.5 L337.7 560.5 L350.1 558.2 L362.6 560.5 L375.0 560.5 L387.5 545.5 L399.9 481.8 L412.3 529.7 L424.8 558.5 L437.2 556.8 L449.7 555.0 L462.1 560.5 L474.6 560.5 L487.0 554.9 L499.4 557.9 L511.9 560.5 L524.3 554.4 L536.8 556.2 L549.2 499.1 L561.7 542.4 L574.1 548.2 L586.5 549.5 L599.0 537.7 L611.4 556.9 L623.9 559.7 L636.3 529.1 L648.8 560.5 L661.2 552.7 L673.6 560.5 L686.1 560.5 L698.5 553.0 L711.0 560.5 L723.4 560.5 L735.8 554.6 L748.3 554.6 L760.7 555.7 L773.2 540.0 L785.6 553.7 L798.1 535.2 L810.5 550.5" stroke="#20a0d8"/><path d="M175.9 560.5 L188.4 560.4 L200.8 546.6 L213.3 559.9 L225.7 560.5 L238.2 560.5 L250.6 560.5 L263.0 560.5 L275.5 560.5 L287.9 560.5 L300.4 560.5 L312.8 560.5 L325.2 560.5 L337.7 560.5 L350.1 560.5 L362.6 560.5 L375.0 557.6 L387.5 560.5 L399.9 533.1 L412.3 557.0 L424.8 557.2 L437.2 560.5 L449.7 555.5 L462.1 556.4 L474.6 556.4 L487.0 560.5 L499.4 509.7 L511.9 558.0 L524.3 546.3 L536.8 520.5 L549.2 556.4 L561.7 560.5 L574.1 560.5 L586.5 543.3 L599.0 560.5 L611.4 555.6 L623.9 553.2 L636.3 560.5 L648.8 501.7 L661.2 554.1 L673.6 558.0 L686.1 560.5 L698.5 534.0 L711.0 557.2 L723.4 540.0 L735.8 560.5 L748.3 525.0 L760.7 560.5 L773.2 425.4 L785.6 560.5 L798.1 533.1 L810.5 560.5" stroke="#18b0c0"/><path d="M175.9 560.5 L188.4 558.4 L200.8 548.4 L213.3 560.5 L225.7 560.5 L238.2 559.7 L250.6 558.3 L263.0 560.5 L275.5 560.5 L287.9 560.5 L300.4 560.5 L312.8 560.5 L325.2 560.5 L337.7 560.5 L350.1 560.5 L362.6 540.0 L375.0 560.4 L387.5 560.5 L399.9 560.5 L412.3 560.5 L424.8 557.3 L437.2 549.9 L449.7 560.5 L462.1 560.5 L474.6 560.0 L487.0 531.9 L499.4 543.6 L511.9 560.5 L524.3 559.5 L536.8 560.5 L549.2 560.5 L561.7 537.6 L574.1 554.2 L586.5 556.8 L599.0 558.1 L611.4 445.2 L623.9 553.2 L636.3 554.7 L648.8 476.4 L661.2 553.8 L673.6 556.1 L686.1 560.5 L698.5 547.6 L711.0 550.4 L723.4 558.6 L735.8 560.5 L748.3 560.3 L760.7 560.5 L773.2 515.7 L785.6 555.7 L798.1 560.5 L810.5 560.5" stroke="#10b090"/><path d="M175.9 560.5 L188.4 560.5 L200.8 551.2 L213.3 560.5 L225.7 560.5 L238.2 559.0 L250.6 560.5 L263.0 560.5 L275.5 560.5 L287.9 560.5 L300.4 560.5 L312.8 560.5 L325.2 560.5 L337.7 560.5 L350.1 556.3 L362.6 560.5 L375.0 556.8 L387.5 560.5 L399.9 515.2 L412.3 539.9 L424.8 555.9 L437.2 556.6 L449.7 539.3 L462.1 547.1 L474.6 556.1 L487.0 560.5 L499.4 557.0 L511.9 555.3 L524.3 558.6 L536.8 548.5 L549.2 553.8 L561.7 539.6 L574.1 548.4 L586.5 560.5 L599.0 555.8 L611.4 543.0 L623.9 556.6 L636.3 560.5 L648.8 560.5 L661.2 556.0 L673.6 556.6 L686.1 538.2 L698.5 556.8 L711.0 560.5 L723.4 556.7 L735.8 530.2 L748.3 560.5 L760.7 560.5 L773.2 556.3 L785.6 539.9 L798.1 557.3 L810.5 560.5" stroke="#10b060"/><path d="M175.9 560.5 L188.4 560.0 L200.8 553.1 L213.3 559.6 L225.7 560.5 L238.2 560.5 L250.6 557.1 L263.0 560.5 L275.5 560.5 L287.9 560.5 L300.4 560.5 L312.8 560.5 L325.2 560.5 L337.7 560.5 L350.1 555.6 L362.6 560.5 L375.0 560.5 L387.5 549.1 L399.9 540.2 L412.3 560.5 L424.8 560.5 L437.2 539.5 L449.7 560.5 L462.1 560.1 L474.6 540.4 L487.0 558.5 L499.4 521.9 L511.9 560.4 L524.3 560.5 L536.8 533.9 L549.2 558.9 L561.7 556.3 L574.1 560.5 L586.5 559.0 L599.0 550.5 L611.4 556.6 L623.9 560.5 L636.3 560.5 L648.8 527.9 L661.2 557.3 L673.6 560.5 L686.1 525.7 L698.5 555.6 L711.0 555.8 L723.4 557.8 L735.8 560.2 L748.3 560.2 L760.7 555.3 L773.2 555.4 L785.6 520.8 L798.1 454.5 L810.5 394.9" stroke="#10b048"/><path d="M175.9 560.5 L188.4 558.7 L200.8 554.9 L213.3 559.7 L225.7 560.5 L238.2 560.5 L250.6 556.8 L263.0 560.5 L275.5 560.5 L287.9 560.5 L300.4 560.5 L312.8 560.5 L325.2 560.5 L337.7 560.5 L350.1 553.5 L362.6 512.4 L375.0 560.5 L387.5 530.3 L399.9 560.5 L412.3 560.5 L424.8 556.5 L437.2 553.6 L449.7 560.5 L462.1 523.4 L474.6 560.5 L487.0 560.5 L499.4 559.2 L511.9 560.5 L524.3 542.2 L536.8 553.3 L549.2 560.5 L561.7 555.2 L574.1 560.5 L586.5 503.3 L599.0 560.5 L611.4 553.8 L623.9 553.8 L636.3 533.4 L648.8 546.2 L661.2 557.8 L673.6 532.2 L686.1 558.6 L698.5 497.6 L711.0 530.2 L723.4 548.6 L735.8 542.8 L748.3 560.5 L760.7 555.1 L773.2 527.7 L785.6 500.9 L798.1 545.1 L810.5 531.9" stroke="#10c020"/><path d="M175.9 560.5 L188.4 559.3 L200.8 555.9 L213.3 559.5 L225.7 560.5 L238.2 556.2 L250.6 559.4 L263.0 560.5 L275.5 560.5 L287.9 560.5 L300.4 560.5 L312.8 560.5 L325.2 560.5 L337.7 560.5 L350.1 553.6 L362.6 526.1 L375.0 538.0 L387.5 547.5 L399.9 553.3 L412.3 558.7 L424.8 550.7 L437.2 560.5 L449.7 559.4 L462.1 560.5 L474.6 548.4 L487.0 556.3 L499.4 560.5 L511.9 557.1 L524.3 560.5 L536.8 560.5 L549.2 560.5 L561.7 558.5 L574.1 555.9 L586.5 555.6 L599.0 549.5 L611.4 549.8 L623.9 545.9 L636.3 560.5 L648.8 560.5 L661.2 557.7 L673.6 554.0 L686.1 520.6 L698.5 516.2 L711.0 560.5 L723.4 545.7 L735.8 560.5 L748.3 560.5 L760.7 560.5 L773.2 549.9 L785.6 560.5 L798.1 541.5 L810.5 557.5" stroke="#10d010"/></g>
<path d="M175.9 560.5 L188.4 559.2 L200.8 531.4 L213.3 559.8 L225.7 560.5 L238.2 557.9 L250.6 558.5 L263.0 560.5 L275.5 560.5 L287.9 560.5 L300.4 560.5 L312.8 560.5 L325.2 560.5 L337.7 560.5 L350.1 556.5 L362.6 547.9 L375.0 539.3 L387.5 538.0 L399.9 536.0 L412.3 552.5 L424.8 557.9 L437.2 556.1 L449.7 554.5 L462.1 547.2 L474.6 539.7 L487.0 536.6 L499.4 536.6 L511.9 548.6 L524.3 547.2 L536.8 548.6 L549.2 535.3 L561.7 551.6 L574.1 556.1 L586.5 549.9 L599.0 542.6 L611.4 556.0 L623.9 557.9 L636.3 551.6 L648.8 543.9 L661.2 557.9 L673.6 551.6 L686.1 547.2 L698.5 543.9 L711.0 548.6 L723.4 543.9 L735.8 542.6 L748.3 548.6 L760.7 551.6 L773.2 547.2 L785.6 552.9 L798.1 552.5 L810.5 552.5" stroke="#f0f0f0" stroke-width="2.8" fill="none" stroke-linejoin="round"/>
<path d="M175.9 560.5 L188.4 560.5 L200.8 539.3 L213.3 560.5 L225.7 560.5 L238.2 556.5 L250.6 560.5 L263.0 560.5 L275.5 560.5 L287.9 560.5 L300.4 560.5 L312.8 560.5 L325.2 560.5 L337.7 560.5 L350.1 560.5 L362.6 549.9 L375.0 520.8 L387.5 351.1 L399.9 534.0 L412.3 556.5 L424.8 560.5 L437.2 560.5 L449.7 560.5 L462.1 553.9 L474.6 539.3 L487.0 534.0 L499.4 552.5 L511.9 560.5 L524.3 560.5 L536.8 549.9 L549.2 531.4 L561.7 556.5 L574.1 560.5 L586.5 560.5 L599.0 543.3 L611.4 560.5 L623.9 560.5 L636.3 553.9 L648.8 514.1 L661.2 557.9 L673.6 560.5 L686.1 560.5 L698.5 507.5 L711.0 549.9 L723.4 560.5 L735.8 560.5 L748.3 560.5 L760.7 560.5 L773.2 560.5 L785.6 560.5 L798.1 560.5 L810.5 534.0" stroke="#10e810" stroke-width="3.0" fill="none" stroke-linejoin="round"/>
<rect x="163.5" y="30.5" width="647.0" height="530.0" fill="none" stroke="#e8e8e8" stroke-width="1"/>
<path d="M807.0 546.5 H810.5 M807.0 533.5 H810.5 M807.0 520.5 H810.5 M807.0 507.5 H810.5 M807.0 493.5 H810.5 M807.0 480.5 H810.5 M807.0 467.5 H810.5 M807.0 454.5 H810.5 M807.0 440.5 H810.5 M807.0 427.5 H810.5 M807.0 414.5 H810.5 M807.0 401.5 H810.5 M807.0 387.5 H810.5 M807.0 374.5 H810.5 M807.0 361.5 H810.5 M807.0 348.5 H810.5 M807.0 334.5 H810.5 M807.0 321.5 H810.5 M807.0 308.5 H810.5 M807.0 295.5 H810.5 M807.0 281.5 H810.5 M807.0 268.5 H810.5 M807.0 255.5 H810.5 M807.0 242.5 H810.5 M807.0 228.5 H810.5 M807.0 215.5 H810.5 M807.0 202.5 H810.5 M807.0 189.5 H810.5 M807.0 175.5 H810.5 M807.0 162.5 H810.5 M807.0 149.5 H810.5 M807.0 136.5 H810.5 M807.0 122.5 H810.5 M807.0 109.5 H810.5 M807.0 96.5 H810.5 M807.0 83.5 H810.5 M807.0 69.5 H810.5 M807.0 56.5 H810.5 M807.0 43.5 H810.5" stroke="#e8e8e8" stroke-width="1"/>
<text x="154.0" y="32.6" font-size="10.6" text-anchor="end" textLength="13.49" lengthAdjust="spacingAndGlyphs">45</text>
<text x="154.0" y="80.8" font-size="10.6" text-anchor="end" textLength="13.49" lengthAdjust="spacingAndGlyphs">40</text>
<text x="154.0" y="129.0" font-size="10.6" text-anchor="end" textLength="13.49" lengthAdjust="spacingAndGlyphs">35</text>
<text x="154.0" y="177.1" font-size="10.6" text-anchor="end" textLength="13.49" lengthAdjust="spacingAndGlyphs">30</text>
<text x="154.0" y="225.3" font-size="10.6" text-anchor="end" textLength="13.49" lengthAdjust="spacingAndGlyphs">25</text>
<text x="154.0" y="273.5" font-size="10.6" text-anchor="end" textLength="13.49" lengthAdjust="spacingAndGlyphs">20</text>
<text x="154.0" y="321.7" font-size="10.6" text-anchor="end" textLength="13.49" lengthAdjust="spacingAndGlyphs">15</text>
<text x="154.0" y="369.9" font-size="10.6" text-anchor="end" textLength="13.49" lengthAdjust="spacingAndGlyphs">10</text>
<text x="154.0" y="418.1" font-size="10.6" text-anchor="end" textLength="6.74" lengthAdjust="spacingAndGlyphs">5</text>
<text x="154.0" y="466.2" font-size="10.6" text-anchor="end" textLength="6.74" lengthAdjust="spacingAndGlyphs">0</text>
<text x="154.0" y="514.4" font-size="10.6" text-anchor="end" textLength="10.57" lengthAdjust="spacingAndGlyphs">-5</text>
<text x="154.0" y="562.6" font-size="10.6" text-anchor="end" textLength="17.31" lengthAdjust="spacingAndGlyphs">-10</text>
<text x="816.7" y="562.9" font-size="10.6" textLength="6.74" lengthAdjust="spacingAndGlyphs">0</text>
<text x="816.7" y="430.4" font-size="10.6" textLength="13.49" lengthAdjust="spacingAndGlyphs">10</text>
<text x="816.7" y="297.9" font-size="10.6" textLength="13.49" lengthAdjust="spacingAndGlyphs">20</text>
<text x="816.7" y="165.4" font-size="10.6" textLength="13.49" lengthAdjust="spacingAndGlyphs">30</text>
<text x="816.7" y="32.9" font-size="10.6" textLength="13.49" lengthAdjust="spacingAndGlyphs">40</text>
<text x="162.8" y="577.0" font-size="10.6" text-anchor="middle" textLength="55.89" lengthAdjust="spacingAndGlyphs">04Sep 00z</text>
<text x="262.3" y="577.0" font-size="10.6" text-anchor="middle" textLength="55.89" lengthAdjust="spacingAndGlyphs">06Sep 00z</text>
<text x="361.9" y="577.0" font-size="10.6" text-anchor="middle" textLength="55.89" lengthAdjust="spacingAndGlyphs">08Sep 00z</text>
<text x="461.4" y="577.0" font-size="10.6" text-anchor="middle" textLength="55.89" lengthAdjust="spacingAndGlyphs">10Sep 00z</text>
<text x="561.0" y="577.0" font-size="10.6" text-anchor="middle" textLength="55.89" lengthAdjust="spacingAndGlyphs">12Sep 00z</text>
<text x="660.5" y="577.0" font-size="10.6" text-anchor="middle" textLength="55.89" lengthAdjust="spacingAndGlyphs">14Sep 00z</text>
<text x="760.0" y="577.0" font-size="10.6" text-anchor="middle" textLength="55.89" lengthAdjust="spacingAndGlyphs">16Sep 00z</text>
<text x="486.5" y="592.8" font-size="10.6" text-anchor="middle" textLength="57.99" lengthAdjust="spacingAndGlyphs">Date (UTC)</text>
<text transform="translate(134.0,294.5) rotate(-90)" font-size="10.6" text-anchor="middle" textLength="76.40" lengthAdjust="spacingAndGlyphs">2m Temp. (°C)</text>
<text transform="translate(842.2,295.5) rotate(-90)" font-size="10.6" text-anchor="middle" textLength="79.31" lengthAdjust="spacingAndGlyphs">Neerslag (mm)</text>
<text x="169.53" y="17.00" font-size="17" textLength="77.16" lengthAdjust="spacingAndGlyphs" font-weight="bold">Brussels</text>
<text x="256.41" y="17.00" font-size="17" textLength="38.04" lengthAdjust="spacingAndGlyphs" font-weight="bold">(BE)</text>
<text x="306.20" y="17.00" font-size="17" textLength="27.14" lengthAdjust="spacingAndGlyphs" font-weight="bold">2m</text>
<text x="340.00" y="17.00" font-size="17" textLength="57.96" lengthAdjust="spacingAndGlyphs" font-weight="bold">Temp.</text>
<text x="399.00" y="17.00" font-size="17" textLength="15.35" lengthAdjust="spacingAndGlyphs" font-weight="bold">&amp;</text>
<text x="418.38" y="17.00" font-size="17" textLength="80.34" lengthAdjust="spacingAndGlyphs" font-weight="bold">Neerslag</text>
<text x="504.47" y="17.00" font-size="17" textLength="5.40" lengthAdjust="spacingAndGlyphs" font-weight="bold">|</text>
<text x="517.00" y="17.00" font-size="17" textLength="38.66" lengthAdjust="spacingAndGlyphs" font-weight="bold">Thu,</text>
<text x="560.60" y="17.00" font-size="17" textLength="99.89" lengthAdjust="spacingAndGlyphs" font-weight="bold">04Sep2025</text>
<text x="666.50" y="17.00" font-size="17" textLength="34.45" lengthAdjust="spacingAndGlyphs" font-weight="bold">00Z</text>
<text x="120.40" y="603.60" font-size="16" textLength="33.33" lengthAdjust="spacingAndGlyphs" style="fill:#f0f0f0">AIFS</text>
<text x="158.18" y="603.60" font-size="16" textLength="84.38" lengthAdjust="spacingAndGlyphs" style="fill:#f0f0f0">Ensemble,</text>
<text x="247.27" y="603.60" font-size="16" textLength="63.52" lengthAdjust="spacingAndGlyphs" style="fill:#f0f0f0">50.75N,</text>
<text x="316.50" y="603.60" font-size="16" textLength="44.10" lengthAdjust="spacingAndGlyphs" style="fill:#f0f0f0">4.25E</text>
<text x="651.40" y="603.80" font-size="16" textLength="141.40" lengthAdjust="spacingAndGlyphs" style="fill:#f0f0f0">Wetterzentrale.de</text>
<path d="M4.1 40.9 H14.8" stroke="#1030c8" stroke-width="1.8"/>
<text x="14.7" y="42.8" font-size="10.6" textLength="13.14" lengthAdjust="spacingAndGlyphs">P1</text>
<path d="M78.1 40.9 H88.8" stroke="#1050d0" stroke-width="1.8"/>
<text x="88.7" y="42.8" font-size="10.6" textLength="13.14" lengthAdjust="spacingAndGlyphs">P2</text>
<path d="M4.1 55.9 H14.8" stroke="#1880d8" stroke-width="1.8"/>
<text x="14.7" y="57.8" font-size="10.6" textLength="13.14" lengthAdjust="spacingAndGlyphs">P3</text>
<path d="M78.1 55.9 H88.8" stroke="#20a0d8" stroke-width="1.8"/>
<text x="88.7" y="57.8" font-size="10.6" textLength="13.14" lengthAdjust="spacingAndGlyphs">P4</text>
<path d="M4.1 71.0 H14.8" stroke="#18b0c0" stroke-width="1.8"/>
<text x="14.7" y="72.9" font-size="10.6" textLength="13.14" lengthAdjust="spacingAndGlyphs">P5</text>
<path d="M78.1 71.0 H88.8" stroke="#10b090" stroke-width="1.8"/>
<text x="88.7" y="72.9" font-size="10.6" textLength="13.14" lengthAdjust="spacingAndGlyphs">P6</text>
<path d="M4.1 86.0 H14.8" stroke="#10b060" stroke-width="1.8"/>
<text x="14.7" y="87.9" font-size="10.6" textLength="13.14" lengthAdjust="spacingAndGlyphs">P7</text>
<path d="M78.1 86.0 H88.8" stroke="#10b048" stroke-width="1.8"/>
<text x="88.7" y="87.9" font-size="10.6" textLength="13.14" lengthAdjust="spacingAndGlyphs">P8</text>
<path d="M4.1 101.1 H14.8" stroke="#10c020" stroke-width="1.8"/>
<text x="14.7" y="103.0" font-size="10.6" textLength="13.14" lengthAdjust="spacingAndGlyphs">P9</text>
<path d="M78.1 101.1 H88.8" stroke="#10d010" stroke-width="1.8"/>
<text x="88.7" y="103.0" font-size="10.6" textLength="19.88" lengthAdjust="spacingAndGlyphs">P10</text>
<path d="M4.1 116.1 H14.8" stroke="#d8d010" stroke-width="1.8"/>
<text x="14.7" y="118.0" font-size="10.6" textLength="19.88" lengthAdjust="spacingAndGlyphs">P11</text>
<path d="M78.1 116.1 H88.8" stroke="#d0b010" stroke-width="1.8"/>
<text x="88.7" y="118.0" font-size="10.6" textLength="19.88" lengthAdjust="spacingAndGlyphs">P12</text>
<path d="M4.1 131.1 H14.8" stroke="#d8a010" stroke-width="1.8"/>
<text x="14.7" y="133.0" font-size="10.6" textLength="19.88" lengthAdjust="spacingAndGlyphs">P13</text>
<path d="M78.1 131.1 H88.8" stroke="#d89010" stroke-width="1.8"/>
<text x="88.7" y="133.0" font-size="10.6" textLength="19.88" lengthAdjust="spacingAndGlyphs">P14</text>
<path d="M4.1 146.2 H14.8" stroke="#d88010" stroke-width="1.8"/>
<text x="14.7" y="148.1" font-size="10.6" textLength="19.88" lengthAdjust="spacingAndGlyphs">P15</text>
<path d="M78.1 146.2 H88.8" stroke="#c87010" stroke-width="1.8"/>
<text x="88.7" y="148.1" font-size="10.6" textLength="19.88" lengthAdjust="spacingAndGlyphs">P16</text>
<path d="M4.1 161.2 H14.8" stroke="#c86010" stroke-width="1.8"/>
<text x="14.7" y="163.1" font-size="10.6" textLength="19.88" lengthAdjust="spacingAndGlyphs">P17</text>
<path d="M78.1 161.2 H88.8" stroke="#c04818" stroke-width="1.8"/>
<text x="88.7" y="163.1" font-size="10.6" textLength="19.88" lengthAdjust="spacingAndGlyphs">P18</text>
<path d="M4.1 176.3 H14.8" stroke="#b83818" stroke-width="1.8"/>
<text x="14.7" y="178.2" font-size="10.6" textLength="19.88" lengthAdjust="spacingAndGlyphs">P19</text>
<path d="M78.1 176.3 H88.8" stroke="#a82020" stroke-width="1.8"/>
<text x="88.7" y="178.2" font-size="10.6" textLength="19.88" lengthAdjust="spacingAndGlyphs">P20</text>
<path d="M4.1 191.3 H14.8" stroke="#1030c8" stroke-width="1.8"/>
<text x="14.7" y="193.2" font-size="10.6" textLength="19.88" lengthAdjust="spacingAndGlyphs">P21</text>
<path d="M78.1 191.3 H88.8" stroke="#1050d0" stroke-width="1.8"/>
<text x="88.7" y="193.2" font-size="10.6" textLength="19.88" lengthAdjust="spacingAndGlyphs">P22</text>
<path d="M4.1 206.3 H14.8" stroke="#1880d8" stroke-width="1.8"/>
<text x="14.7" y="208.2" font-size="10.6" textLength="19.88" lengthAdjust="spacingAndGlyphs">P23</text>
<path d="M78.1 206.3 H88.8" stroke="#20a0d8" stroke-width="1.8"/>
<text x="88.7" y="208.2" font-size="10.6" textLength="19.88" lengthAdjust="spacingAndGlyphs">P24</text>
<path d="M4.1 221.4 H14.8" stroke="#18b0c0" stroke-width="1.8"/>
<text x="14.7" y="223.3" font-size="10.6" textLength="19.88" lengthAdjust="spacingAndGlyphs">P25</text>
<path d="M78.1 221.4 H88.8" stroke="#10b090" stroke-width="1.8"/>
<text x="88.7" y="223.3" font-size="10.6" textLength="19.88" lengthAdjust="spacingAndGlyphs">P26</text>
<path d="M4.1 236.4 H14.8" stroke="#10b060" stroke-width="1.8"/>
<text x="14.7" y="238.3" font-size="10.6" textLength="19.88" lengthAdjust="spacingAndGlyphs">P27</text>
<path d="M78.1 236.4 H88.8" stroke="#10b048" stroke-width="1.8"/>
<text x="88.7" y="238.3" font-size="10.6" textLength="19.88" lengthAdjust="spacingAndGlyphs">P28</text>
<path d="M4.1 251.5 H14.8" stroke="#10c020" stroke-width="1.8"/>
<text x="14.7" y="253.4" font-size="10.6" textLength="19.88" lengthAdjust="spacingAndGlyphs">P29</text>
<path d="M78.1 251.5 H88.8" stroke="#10d010" stroke-width="1.8"/>
<text x="88.7" y="253.4" font-size="10.6" textLength="19.88" lengthAdjust="spacingAndGlyphs">P30</text>
<path d="M4.1 266.5 H14.8" stroke="#d8d010" stroke-width="1.8"/>
<text x="14.7" y="268.4" font-size="10.6" textLength="19.88" lengthAdjust="spacingAndGlyphs">P31</text>
<path d="M78.1 266.5 H88.8" stroke="#d0b010" stroke-width="1.8"/>
<text x="88.7" y="268.4" font-size="10.6" textLength="19.88" lengthAdjust="spacingAndGlyphs">P32</text>
<path d="M4.1 281.5 H14.8" stroke="#d8a010" stroke-width="1.8"/>
<text x="14.7" y="283.4" font-size="10.6" textLength="19.88" lengthAdjust="spacingAndGlyphs">P33</text>
<path d="M78.1 281.5 H88.8" stroke="#d89010" stroke-width="1.8"/>
<text x="88.7" y="283.4" font-size="10.6" textLength="19.88" lengthAdjust="spacingAndGlyphs">P34</text>
<path d="M4.1 296.6 H14.8" stroke="#d88010" stroke-width="1.8"/>
<text x="14.7" y="298.5" font-size="10.6" textLength="19.88" lengthAdjust="spacingAndGlyphs">P35</text>
<path d="M78.1 296.6 H88.8" stroke="#c87010" stroke-width="1.8"/>
<text x="88.7" y="298.5" font-size="10.6" textLength="19.88" lengthAdjust="spacingAndGlyphs">P36</text>
<path d="M4.1 311.6 H14.8" stroke="#c86010" stroke-width="1.8"/>
<text x="14.7" y="313.5" font-size="10.6" textLength="19.88" lengthAdjust="spacingAndGlyphs">P37</text>
<path d="M78.1 311.6 H88.8" stroke="#c04818" stroke-width="1.8"/>
<text x="88.7" y="313.5" font-size="10.6" textLength="19.88" lengthAdjust="spacingAndGlyphs">P38</text>
<path d="M4.1 326.7 H14.8" stroke="#b83818" stroke-width="1.8"/>
<text x="14.7" y="328.6" font-size="10.6" textLength="19.88" lengthAdjust="spacingAndGlyphs">P39</text>
<path d="M78.1 326.7 H88.8" stroke="#a82020" stroke-width="1.8"/>
<text x="88.7" y="328.6" font-size="10.6" textLength="19.88" lengthAdjust="spacingAndGlyphs">P40</text>
<path d="M4.1 341.7 H14.8" stroke="#1030c8" stroke-width="1.8"/>
<text x="14.7" y="343.6" font-size="10.6" textLength="19.88" lengthAdjust="spacingAndGlyphs">P41</text>
<path d="M78.1 341.7 H88.8" stroke="#1050d0" stroke-width="1.8"/>
<text x="88.7" y="343.6" font-size="10.6" textLength="19.88" lengthAdjust="spacingAndGlyphs">P42</text>
<path d="M4.1 356.7 H14.8" stroke="#1880d8" stroke-width="1.8"/>
<text x="14.7" y="358.6" font-size="10.6" textLength="19.88" lengthAdjust="spacingAndGlyphs">P43</text>
<path d="M78.1 356.7 H88.8" stroke="#20a0d8" stroke-width="1.8"/>
<text x="88.7" y="358.6" font-size="10.6" textLength="19.88" lengthAdjust="spacingAndGlyphs">P44</text>
<path d="M4.1 371.8 H14.8" stroke="#18b0c0" stroke-width="1.8"/>
<text x="14.7" y="373.7" font-size="10.6" textLength="19.88" lengthAdjust="spacingAndGlyphs">P45</text>
<path d="M78.1 371.8 H88.8" stroke="#10b090" stroke-width="1.8"/>
<text x="88.7" y="373.7" font-size="10.6" textLength="19.88" lengthAdjust="spacingAndGlyphs">P46</text>
<path d="M4.1 386.8 H14.8" stroke="#10b060" stroke-width="1.8"/>
<text x="14.7" y="388.7" font-size="10.6" textLength="19.88" lengthAdjust="spacingAndGlyphs">P47</text>
<path d="M78.1 386.8 H88.8" stroke="#10b048" stroke-width="1.8"/>
<text x="88.7" y="388.7" font-size="10.6" textLength="19.88" lengthAdjust="spacingAndGlyphs">P48</text>
<path d="M4.1 401.9 H14.8" stroke="#10c020" stroke-width="1.8"/>
<text x="14.7" y="403.8" font-size="10.6" textLength="19.88" lengthAdjust="spacingAndGlyphs">P49</text>
<path d="M78.1 401.9 H88.8" stroke="#10d010" stroke-width="1.8"/>
<text x="88.7" y="403.8" font-size="10.6" textLength="19.88" lengthAdjust="spacingAndGlyphs">P50</text>
<path d="M4.1 416.9 H14.8" stroke="#ffffff" stroke-width="2.2"/>
<text x="14.7" y="418.8" font-size="10.6" textLength="55.74" lengthAdjust="spacingAndGlyphs">Ens. mean</text>
<path d="M78.1 416.9 H88.8" stroke="#00e000" stroke-width="2.2"/>
<text x="88.7" y="418.8" font-size="10.6" textLength="25.95" lengthAdjust="spacingAndGlyphs">Oper</text>
</svg></body></html>
